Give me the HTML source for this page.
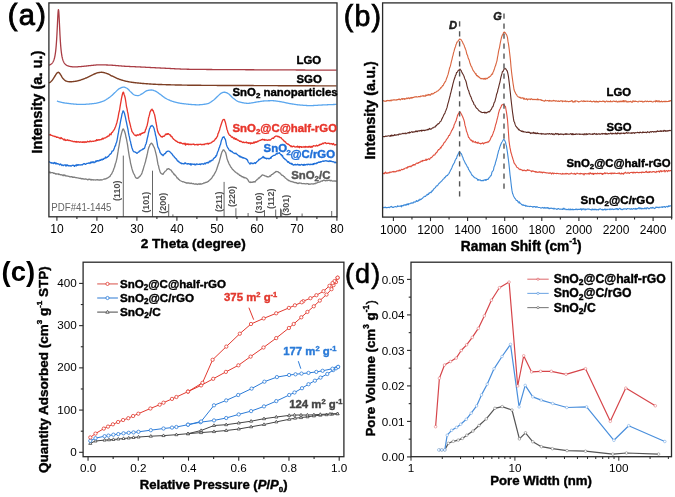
<!DOCTYPE html>
<html><head><meta charset="utf-8"><style>
html,body{margin:0;padding:0;background:#fff;}
svg{display:block;font-family:"Liberation Sans", sans-serif;will-change:transform;filter:blur(0.3px);}
</style></head><body>
<svg width="675" height="497" viewBox="0 0 675 497">
<rect width="675" height="497" fill="#fff"/>
<path d="M49.00,65.18 49.20,65.11 49.40,65.04 49.60,64.96 49.80,64.87 50.00,64.78 50.20,64.68 50.40,64.58 50.60,64.46 50.80,64.33 51.00,64.20 51.20,64.05 51.40,63.89 51.60,63.71 51.80,63.52 52.00,63.32 52.20,63.09 52.40,62.84 52.60,62.56 52.80,62.26 53.00,61.93 53.20,61.56 53.40,61.15 53.60,60.70 53.80,60.20 54.00,59.64 54.20,59.01 54.40,58.30 54.60,57.50 54.80,56.61 55.00,55.59 55.20,54.43 55.40,53.11 55.60,51.60 55.80,49.88 56.00,47.91 56.20,45.65 56.40,43.07 56.60,40.14 56.80,36.83 57.00,33.16 57.20,29.15 57.40,24.92 57.60,20.64 57.80,16.61 58.00,13.18 58.20,10.75 58.40,9.65 58.60,10.03 58.80,11.84 59.00,14.84 59.20,18.63 59.40,22.84 59.60,27.14 59.80,31.29 60.00,35.16 60.20,38.66 60.40,41.80 60.60,44.57 60.80,47.00 61.00,49.12 61.20,50.98 61.40,52.61 61.60,54.03 61.80,55.29 62.00,56.39 62.20,57.36 62.40,58.22 62.60,58.99 62.80,59.67 63.00,60.28 63.20,60.83 63.40,61.32 63.60,61.77 63.80,62.17 64.00,62.53 64.20,62.87 64.40,63.17 64.60,63.44 64.80,63.70 65.00,63.93 65.20,64.14 65.40,64.34 65.60,64.52 65.80,64.69 66.00,64.84 66.20,64.99 66.40,65.12 66.60,65.24 66.80,65.36 67.00,65.46 67.20,65.56 67.40,65.66 67.60,65.74 67.80,65.83 68.00,65.90 68.20,65.97 68.40,66.04 68.60,66.10 68.80,66.16 69.00,66.22 69.20,66.27 69.40,66.32 69.60,66.36 69.80,66.41 70.00,66.45 70.50,66.54 71.00,66.62 71.50,66.69 72.00,66.75 72.50,66.80 73.00,66.83 73.50,66.86 74.00,66.87 74.50,66.88 75.00,66.88 75.50,66.87 76.00,66.85 76.50,66.83 77.00,66.81 77.50,66.78 78.00,66.75 78.50,66.72 79.00,66.69 79.50,66.65 80.00,66.62 80.50,66.59 81.00,66.55 81.50,66.51 82.00,66.46 82.50,66.41 83.00,66.36 83.50,66.31 84.00,66.26 84.50,66.21 85.00,66.15 85.50,66.10 86.00,66.04 86.50,65.99 87.00,65.93 87.50,65.88 88.00,65.82 88.50,65.77 89.00,65.72 89.50,65.67 90.00,65.62 90.50,65.57 91.00,65.52 91.50,65.47 92.00,65.42 92.50,65.36 93.00,65.31 93.50,65.25 94.00,65.19 94.50,65.14 95.00,65.09 95.50,65.04 96.00,64.99 96.50,64.95 97.00,64.91 97.50,64.88 98.00,64.85 98.50,64.82 99.00,64.81 99.50,64.80 100.00,64.80 100.50,64.80 101.00,64.81 101.50,64.81 102.00,64.82 102.50,64.84 103.00,64.85 103.50,64.86 104.00,64.88 104.50,64.90 105.00,64.92 105.50,64.94 106.00,64.96 106.50,64.98 107.00,65.00 107.50,65.02 108.00,65.04 108.50,65.07 109.00,65.09 109.50,65.11 110.00,65.13 110.50,65.16 111.00,65.18 111.50,65.21 112.00,65.24 112.50,65.27 113.00,65.31 113.50,65.34 114.00,65.38 114.50,65.42 115.00,65.46 115.50,65.50 116.00,65.54 116.50,65.58 117.00,65.63 117.50,65.67 118.00,65.71 118.50,65.76 119.00,65.80 119.50,65.84 120.00,65.89 120.50,65.93 121.00,65.97 121.50,66.01 122.00,66.05 122.50,66.09 123.00,66.13 123.50,66.16 124.00,66.20 124.50,66.23 125.00,66.26 125.50,66.29 126.00,66.32 126.50,66.34 127.00,66.37 127.50,66.40 128.00,66.42 128.50,66.45 129.00,66.47 129.50,66.50 130.00,66.52 130.50,66.54 131.00,66.57 131.50,66.59 132.00,66.61 132.50,66.63 133.00,66.66 133.50,66.68 134.00,66.70 134.50,66.72 135.00,66.74 135.50,66.77 136.00,66.79 136.50,66.81 137.00,66.83 137.50,66.86 138.00,66.88 138.50,66.90 139.00,66.93 139.50,66.95 140.00,66.97 140.50,67.00 141.00,67.02 141.50,67.05 142.00,67.07 142.50,67.10 143.00,67.12 143.50,67.15 144.00,67.17 144.50,67.20 145.00,67.22 145.50,67.25 146.00,67.28 146.50,67.30 147.00,67.33 147.50,67.35 148.00,67.38 148.50,67.40 149.00,67.43 149.50,67.46 150.00,67.48 150.50,67.51 151.00,67.53 151.50,67.56 152.00,67.59 152.50,67.61 153.00,67.64 153.50,67.66 154.00,67.69 154.50,67.71 155.00,67.74 155.50,67.76 156.00,67.79 156.50,67.81 157.00,67.84 157.50,67.86 158.00,67.89 158.50,67.91 159.00,67.94 159.50,67.96 160.00,67.98 160.50,68.01 161.00,68.03 161.50,68.05 162.00,68.08 162.50,68.10 163.00,68.13 163.50,68.16 164.00,68.18 164.50,68.21 165.00,68.23 165.50,68.26 166.00,68.29 166.50,68.31 167.00,68.34 167.50,68.36 168.00,68.39 168.50,68.42 169.00,68.44 169.50,68.47 170.00,68.50 170.50,68.52 171.00,68.55 171.50,68.58 172.00,68.60 172.50,68.63 173.00,68.66 173.50,68.68 174.00,68.71 174.50,68.73 175.00,68.76 175.50,68.78 176.00,68.81 176.50,68.83 177.00,68.86 177.50,68.88 178.00,68.90 178.50,68.93 179.00,68.95 179.50,68.97 180.00,68.99 180.50,69.01 181.00,69.03 181.50,69.05 182.00,69.07 182.50,69.09 183.00,69.11 183.50,69.13 184.00,69.14 184.50,69.16 185.00,69.18 185.50,69.19 186.00,69.20 186.50,69.22 187.00,69.23 187.50,69.24 188.00,69.25 188.50,69.26 189.00,69.27 189.50,69.28 190.00,69.29 190.50,69.30 191.00,69.30 191.50,69.31 192.00,69.32 192.50,69.32 193.00,69.33 193.50,69.34 194.00,69.34 194.50,69.35 195.00,69.36 195.50,69.36 196.00,69.37 196.50,69.38 197.00,69.38 197.50,69.39 198.00,69.39 198.50,69.40 199.00,69.40 199.50,69.41 200.00,69.41 200.50,69.42 201.00,69.43 201.50,69.43 202.00,69.44 202.50,69.44 203.00,69.45 203.50,69.45 204.00,69.45 204.50,69.46 205.00,69.46 205.50,69.47 206.00,69.47 206.50,69.48 207.00,69.48 207.50,69.49 208.00,69.49 208.50,69.49 209.00,69.50 209.50,69.50 210.00,69.51 210.50,69.51 211.00,69.51 211.50,69.52 212.00,69.52 212.50,69.53 213.00,69.53 213.50,69.53 214.00,69.54 214.50,69.54 215.00,69.54 215.50,69.55 216.00,69.55 216.50,69.55 217.00,69.56 217.50,69.56 218.00,69.56 218.50,69.57 219.00,69.57 219.50,69.57 220.00,69.58 220.50,69.58 221.00,69.58 221.50,69.59 222.00,69.59 222.50,69.59 223.00,69.59 223.50,69.60 224.00,69.60 224.50,69.60 225.00,69.61 225.50,69.61 226.00,69.61 226.50,69.62 227.00,69.62 227.50,69.62 228.00,69.62 228.50,69.63 229.00,69.63 229.50,69.63 230.00,69.64 230.50,69.64 231.00,69.64 231.50,69.64 232.00,69.65 232.50,69.65 233.00,69.65 233.50,69.66 234.00,69.66 234.50,69.66 235.00,69.66 235.50,69.67 236.00,69.67 236.50,69.67 237.00,69.68 237.50,69.68 238.00,69.68 238.50,69.69 239.00,69.69 239.50,69.69 240.00,69.69 240.50,69.70 241.00,69.70 241.50,69.70 242.00,69.71 242.50,69.71 243.00,69.71 243.50,69.72 244.00,69.72 244.50,69.72 245.00,69.72 245.50,69.73 246.00,69.73 246.50,69.73 247.00,69.74 247.50,69.74 248.00,69.74 248.50,69.74 249.00,69.75 249.50,69.75 250.00,69.75 250.50,69.76 251.00,69.76 251.50,69.76 252.00,69.76 252.50,69.77 253.00,69.77 253.50,69.77 254.00,69.77 254.50,69.78 255.00,69.78 255.50,69.78 256.00,69.78 256.50,69.79 257.00,69.79 257.50,69.79 258.00,69.80 258.50,69.80 259.00,69.80 259.50,69.80 260.00,69.81 260.50,69.81 261.00,69.81 261.50,69.81 262.00,69.82 262.50,69.82 263.00,69.82 263.50,69.82 264.00,69.82 264.50,69.83 265.00,69.83 265.50,69.83 266.00,69.83 266.50,69.84 267.00,69.84 267.50,69.84 268.00,69.84 268.50,69.85 269.00,69.85 269.50,69.85 270.00,69.85 270.50,69.86 271.00,69.86 271.50,69.86 272.00,69.86 272.50,69.86 273.00,69.87 273.50,69.87 274.00,69.87 274.50,69.87 275.00,69.88 275.50,69.88 276.00,69.88 276.50,69.88 277.00,69.89 277.50,69.89 278.00,69.89 278.50,69.89 279.00,69.89 279.50,69.90 280.00,69.90 280.50,69.90 281.00,69.90 281.50,69.91 282.00,69.91 282.50,69.91 283.00,69.91 283.50,69.92 284.00,69.92 284.50,69.92 285.00,69.92 285.50,69.93 286.00,69.93 286.50,69.93 287.00,69.93 287.50,69.93 288.00,69.94 288.50,69.94 289.00,69.94 289.50,69.94 290.00,69.95 290.50,69.95 291.00,69.95 291.50,69.95 292.00,69.96 292.50,69.96 293.00,69.96 293.50,69.96 294.00,69.97 294.50,69.97 295.00,69.97 295.50,69.97 296.00,69.98 296.50,69.98 297.00,69.98 297.50,69.98 298.00,69.99 298.50,69.99 299.00,69.99 299.50,69.99 300.00,70.00 300.50,70.00 301.00,70.00 301.50,70.00 302.00,70.01 302.50,70.01 303.00,70.01 303.50,70.02 304.00,70.02 304.50,70.02 305.00,70.02 305.50,70.03 306.00,70.03 306.50,70.03 307.00,70.03 307.50,70.04 308.00,70.04 308.50,70.04 309.00,70.05 309.50,70.05 310.00,70.05 310.50,70.05 311.00,70.06 311.50,70.06 312.00,70.06 312.50,70.06 313.00,70.07 313.50,70.07 314.00,70.07 314.50,70.07 315.00,70.08 315.50,70.08 316.00,70.08 316.50,70.09 317.00,70.09 317.50,70.09 318.00,70.09 318.50,70.10 319.00,70.10 319.50,70.10 320.00,70.11 320.50,70.11 321.00,70.11 321.50,70.11 322.00,70.12 322.50,70.12 323.00,70.12 323.50,70.12 324.00,70.13 324.50,70.13 325.00,70.13 325.50,70.14 326.00,70.14 326.50,70.14 327.00,70.14 327.50,70.15 328.00,70.15 328.50,70.15 329.00,70.16 329.50,70.16 330.00,70.16 330.50,70.16 331.00,70.17 331.50,70.17 332.00,70.17 332.50,70.18 333.00,70.18 333.50,70.18 334.00,70.18 334.50,70.19 335.00,70.19 335.50,70.19 336.00,70.19 336.50,70.20" fill="none" stroke="#a93c44" stroke-width="1.3" stroke-linejoin="round" />
<path d="M49.00,83.00 49.50,82.72 50.00,82.37 50.50,81.96 51.00,81.51 51.50,81.02 52.00,80.50 52.50,79.89 53.00,79.17 53.50,78.38 54.00,77.56 54.50,76.75 55.00,76.00 55.50,75.23 56.00,74.40 56.50,73.62 57.00,72.98 57.50,72.60 58.00,72.39 58.50,72.30 59.00,72.56 59.50,73.15 60.00,73.80 60.50,74.49 61.00,75.31 61.50,76.19 62.00,77.06 62.50,77.86 63.00,78.50 63.50,79.04 64.00,79.56 64.50,80.03 65.00,80.45 65.50,80.77 66.00,81.00 66.50,81.16 67.00,81.31 67.50,81.45 68.00,81.57 68.50,81.66 69.00,81.74 69.50,81.78 70.00,81.80 70.50,81.79 71.00,81.78 71.50,81.75 72.00,81.71 72.50,81.66 73.00,81.61 73.50,81.55 74.00,81.49 74.50,81.42 75.00,81.35 75.50,81.27 76.00,81.20 76.50,81.12 77.00,81.02 77.50,80.92 78.00,80.80 78.50,80.66 79.00,80.52 79.50,80.37 80.00,80.21 80.50,80.05 81.00,79.88 81.50,79.70 82.00,79.53 82.50,79.34 83.00,79.16 83.50,78.98 84.00,78.80 84.50,78.61 85.00,78.42 85.50,78.21 86.00,77.99 86.50,77.77 87.00,77.54 87.50,77.31 88.00,77.07 88.50,76.83 89.00,76.59 89.50,76.35 90.00,76.11 90.50,75.88 91.00,75.65 91.50,75.42 92.00,75.20 92.50,74.98 93.00,74.74 93.50,74.49 94.00,74.24 94.50,74.00 95.00,73.75 95.50,73.52 96.00,73.31 96.50,73.11 97.00,72.94 97.50,72.80 98.00,72.70 98.50,72.62 99.00,72.53 99.50,72.46 100.00,72.39 100.50,72.34 101.00,72.31 101.50,72.30 102.00,72.32 102.50,72.37 103.00,72.44 103.50,72.54 104.00,72.66 104.50,72.78 105.00,72.92 105.50,73.06 106.00,73.20 106.50,73.35 107.00,73.54 107.50,73.74 108.00,73.97 108.50,74.21 109.00,74.47 109.50,74.73 110.00,74.99 110.50,75.26 111.00,75.52 111.50,75.77 112.00,76.00 112.50,76.23 113.00,76.46 113.50,76.70 114.00,76.94 114.50,77.17 115.00,77.41 115.50,77.65 116.00,77.88 116.50,78.11 117.00,78.33 117.50,78.55 118.00,78.76 118.50,78.96 119.00,79.15 119.50,79.33 120.00,79.50 120.50,79.66 121.00,79.82 121.50,79.97 122.00,80.12 122.50,80.27 123.00,80.41 123.50,80.55 124.00,80.69 124.50,80.82 125.00,80.95 125.50,81.08 126.00,81.20 126.50,81.31 127.00,81.43 127.50,81.53 128.00,81.64 128.50,81.73 129.00,81.83 129.50,81.92 130.00,82.00 130.50,82.08 131.00,82.16 131.50,82.23 132.00,82.30 132.50,82.37 133.00,82.44 133.50,82.51 134.00,82.57 134.50,82.64 135.00,82.70 135.50,82.76 136.00,82.81 136.50,82.87 137.00,82.92 137.50,82.97 138.00,83.02 138.50,83.07 139.00,83.12 139.50,83.17 140.00,83.21 140.50,83.26 141.00,83.30 141.50,83.34 142.00,83.38 142.50,83.43 143.00,83.47 143.50,83.51 144.00,83.55 144.50,83.59 145.00,83.63 145.50,83.66 146.00,83.70 146.50,83.74 147.00,83.78 147.50,83.81 148.00,83.85 148.50,83.89 149.00,83.92 149.50,83.95 150.00,83.99 150.50,84.02 151.00,84.05 151.50,84.09 152.00,84.12 152.50,84.15 153.00,84.18 153.50,84.20 154.00,84.23 154.50,84.26 155.00,84.29 155.50,84.31 156.00,84.34 156.50,84.36 157.00,84.38 157.50,84.40 158.00,84.43 158.50,84.45 159.00,84.46 159.50,84.48 160.00,84.50 160.50,84.52 161.00,84.53 161.50,84.55 162.00,84.57 162.50,84.58 163.00,84.60 163.50,84.61 164.00,84.63 164.50,84.64 165.00,84.66 165.50,84.67 166.00,84.69 166.50,84.70 167.00,84.72 167.50,84.73 168.00,84.75 168.50,84.76 169.00,84.78 169.50,84.79 170.00,84.80 170.50,84.82 171.00,84.83 171.50,84.84 172.00,84.86 172.50,84.87 173.00,84.88 173.50,84.89 174.00,84.91 174.50,84.92 175.00,84.93 175.50,84.94 176.00,84.95 176.50,84.96 177.00,84.98 177.50,84.99 178.00,85.00 178.50,85.01 179.00,85.02 179.50,85.03 180.00,85.04 180.50,85.05 181.00,85.06 181.50,85.07 182.00,85.08 182.50,85.09 183.00,85.10 183.50,85.11 184.00,85.12 184.50,85.13 185.00,85.13 185.50,85.14 186.00,85.15 186.50,85.16 187.00,85.17 187.50,85.18 188.00,85.18 188.50,85.19 189.00,85.20 189.50,85.20 190.00,85.21 190.50,85.22 191.00,85.23 191.50,85.23 192.00,85.24 192.50,85.24 193.00,85.25 193.50,85.26 194.00,85.26 194.50,85.27 195.00,85.27 195.50,85.28 196.00,85.28 196.50,85.29 197.00,85.29 197.50,85.30 198.00,85.30 198.50,85.30 199.00,85.31 199.50,85.31 200.00,85.32 200.50,85.32 201.00,85.32 201.50,85.33 202.00,85.33 202.50,85.34 203.00,85.34 203.50,85.34 204.00,85.35 204.50,85.35 205.00,85.35 205.50,85.36 206.00,85.36 206.50,85.36 207.00,85.37 207.50,85.37 208.00,85.37 208.50,85.38 209.00,85.38 209.50,85.38 210.00,85.39 210.50,85.39 211.00,85.39 211.50,85.39 212.00,85.40 212.50,85.40 213.00,85.40 213.50,85.41 214.00,85.41 214.50,85.41 215.00,85.41 215.50,85.42 216.00,85.42 216.50,85.42 217.00,85.43 217.50,85.43 218.00,85.43 218.50,85.43 219.00,85.44 219.50,85.44 220.00,85.44 220.50,85.44 221.00,85.45 221.50,85.45 222.00,85.45 222.50,85.45 223.00,85.45 223.50,85.46 224.00,85.46 224.50,85.46 225.00,85.46 225.50,85.47 226.00,85.47 226.50,85.47 227.00,85.47 227.50,85.47 228.00,85.48 228.50,85.48 229.00,85.48 229.50,85.48 230.00,85.48 230.50,85.49 231.00,85.49 231.50,85.49 232.00,85.49 232.50,85.49 233.00,85.50 233.50,85.50 234.00,85.50 234.50,85.50 235.00,85.50 235.50,85.51 236.00,85.51 236.50,85.51 237.00,85.51 237.50,85.51 238.00,85.52 238.50,85.52 239.00,85.52 239.50,85.52 240.00,85.52 240.50,85.52 241.00,85.53 241.50,85.53 242.00,85.53 242.50,85.53 243.00,85.53 243.50,85.54 244.00,85.54 244.50,85.54 245.00,85.54 245.50,85.54 246.00,85.54 246.50,85.55 247.00,85.55 247.50,85.55 248.00,85.55 248.50,85.55 249.00,85.56 249.50,85.56 250.00,85.56 250.50,85.56 251.00,85.56 251.50,85.57 252.00,85.57 252.50,85.57 253.00,85.57 253.50,85.57 254.00,85.58 254.50,85.58 255.00,85.58 255.50,85.58 256.00,85.58 256.50,85.59 257.00,85.59 257.50,85.59 258.00,85.59 258.50,85.59 259.00,85.60 259.50,85.60 260.00,85.60 260.50,85.60 261.00,85.60 261.50,85.61 262.00,85.61 262.50,85.61 263.00,85.61 263.50,85.62 264.00,85.62 264.50,85.62 265.00,85.62 265.50,85.62 266.00,85.63 266.50,85.63 267.00,85.63 267.50,85.63 268.00,85.63 268.50,85.64 269.00,85.64 269.50,85.64 270.00,85.64 270.50,85.65 271.00,85.65 271.50,85.65 272.00,85.65 272.50,85.65 273.00,85.66 273.50,85.66 274.00,85.66 274.50,85.66 275.00,85.66 275.50,85.67 276.00,85.67 276.50,85.67 277.00,85.67 277.50,85.67 278.00,85.68 278.50,85.68 279.00,85.68 279.50,85.68 280.00,85.69 280.50,85.69 281.00,85.69 281.50,85.69 282.00,85.69 282.50,85.70 283.00,85.70 283.50,85.70 284.00,85.70 284.50,85.70 285.00,85.71 285.50,85.71 286.00,85.71 286.50,85.71 287.00,85.71 287.50,85.72 288.00,85.72 288.50,85.72 289.00,85.72 289.50,85.72 290.00,85.73 290.50,85.73 291.00,85.73 291.50,85.73 292.00,85.73 292.50,85.74 293.00,85.74 293.50,85.74 294.00,85.74 294.50,85.74 295.00,85.75 295.50,85.75 296.00,85.75 296.50,85.75 297.00,85.75 297.50,85.76 298.00,85.76 298.50,85.76 299.00,85.76 299.50,85.76 300.00,85.77 300.50,85.77 301.00,85.77 301.50,85.77 302.00,85.77 302.50,85.78 303.00,85.78 303.50,85.78 304.00,85.78 304.50,85.78 305.00,85.79 305.50,85.79 306.00,85.79 306.50,85.79 307.00,85.79 307.50,85.79 308.00,85.80 308.50,85.80 309.00,85.80 309.50,85.80 310.00,85.80 310.50,85.81 311.00,85.81 311.50,85.81 312.00,85.81 312.50,85.81 313.00,85.82 313.50,85.82 314.00,85.82 314.50,85.82 315.00,85.82 315.50,85.83 316.00,85.83 316.50,85.83 317.00,85.83 317.50,85.83 318.00,85.83 318.50,85.84 319.00,85.84 319.50,85.84 320.00,85.84 320.50,85.84 321.00,85.85 321.50,85.85 322.00,85.85 322.50,85.85 323.00,85.85 323.50,85.85 324.00,85.86 324.50,85.86 325.00,85.86 325.50,85.86 326.00,85.86 326.50,85.87 327.00,85.87 327.50,85.87 328.00,85.87 328.50,85.87 329.00,85.87 329.50,85.88 330.00,85.88 330.50,85.88 331.00,85.88 331.50,85.88 332.00,85.88 332.50,85.89 333.00,85.89 333.50,85.89 334.00,85.89 334.50,85.89 335.00,85.89 335.50,85.90 336.00,85.90 336.50,85.90" fill="none" stroke="#7d3f24" stroke-width="1.4" stroke-linejoin="round" />
<path d="M56.90,101.10 57.40,101.24 57.90,101.38 58.40,101.52 58.90,101.66 59.40,101.80 59.90,101.93 60.40,102.06 60.90,102.19 61.40,102.31 61.90,102.43 62.40,102.54 62.90,102.64 63.40,102.74 63.90,102.83 64.40,102.91 64.90,102.99 65.40,103.05 65.90,103.12 66.40,103.19 66.90,103.25 67.40,103.32 67.90,103.38 68.40,103.45 68.90,103.51 69.40,103.57 69.90,103.63 70.40,103.69 70.90,103.75 71.40,103.80 71.90,103.86 72.40,103.91 72.90,103.96 73.40,104.01 73.90,104.05 74.40,104.10 74.90,104.14 75.40,104.18 75.90,104.21 76.40,104.25 76.90,104.28 77.40,104.30 77.90,104.33 78.40,104.35 78.90,104.37 79.40,104.38 79.90,104.39 80.40,104.40 80.90,104.40 81.40,104.40 81.90,104.39 82.40,104.39 82.90,104.38 83.40,104.36 83.90,104.35 84.40,104.33 84.90,104.30 85.40,104.28 85.90,104.25 86.40,104.22 86.90,104.19 87.40,104.15 87.90,104.12 88.40,104.08 88.90,104.04 89.40,103.99 89.90,103.95 90.40,103.90 90.90,103.85 91.40,103.80 91.90,103.75 92.40,103.70 92.90,103.64 93.40,103.59 93.90,103.53 94.40,103.47 94.90,103.41 95.40,103.35 95.90,103.27 96.40,103.18 96.90,103.09 97.40,102.98 97.90,102.86 98.40,102.73 98.90,102.59 99.40,102.44 99.90,102.29 100.40,102.13 100.90,101.96 101.40,101.79 101.90,101.61 102.40,101.43 102.90,101.24 103.40,101.04 103.90,100.82 104.40,100.59 104.90,100.33 105.40,100.06 105.90,99.77 106.40,99.47 106.90,99.15 107.40,98.82 107.90,98.49 108.40,98.14 108.90,97.79 109.40,97.43 109.90,97.07 110.40,96.70 110.90,96.29 111.40,95.86 111.90,95.41 112.40,94.95 112.90,94.47 113.40,94.00 113.90,93.52 114.40,93.05 114.90,92.59 115.40,92.13 115.90,91.64 116.40,91.13 116.90,90.62 117.40,90.13 117.90,89.66 118.40,89.23 118.90,88.85 119.40,88.55 119.90,88.30 120.40,88.06 120.90,87.82 121.40,87.61 121.90,87.42 122.40,87.27 122.90,87.16 123.40,87.11 123.90,87.11 124.40,87.19 124.90,87.34 125.40,87.52 125.90,87.75 126.40,87.99 126.90,88.25 127.40,88.54 127.90,88.95 128.40,89.43 128.90,89.97 129.40,90.54 129.90,91.10 130.40,91.63 130.90,92.11 131.40,92.55 131.90,93.01 132.40,93.48 132.90,93.93 133.40,94.34 133.90,94.70 134.40,94.99 134.90,95.18 135.40,95.29 135.90,95.38 136.40,95.47 136.90,95.53 137.40,95.58 137.90,95.60 138.40,95.57 138.90,95.45 139.40,95.26 139.90,95.01 140.40,94.73 140.90,94.43 141.40,94.13 141.90,93.85 142.40,93.58 142.90,93.25 143.40,92.90 143.90,92.53 144.40,92.16 144.90,91.80 145.40,91.46 145.90,91.16 146.40,90.91 146.90,90.73 147.40,90.60 147.90,90.48 148.40,90.36 148.90,90.26 149.40,90.17 149.90,90.10 150.40,90.04 150.90,90.01 151.40,90.00 151.90,90.04 152.40,90.12 152.90,90.24 153.40,90.39 153.90,90.57 154.40,90.76 154.90,90.96 155.40,91.16 155.90,91.38 156.40,91.64 156.90,91.95 157.40,92.29 157.90,92.65 158.40,93.02 158.90,93.40 159.40,93.77 159.90,94.13 160.40,94.48 160.90,94.85 161.40,95.23 161.90,95.61 162.40,96.00 162.90,96.39 163.40,96.77 163.90,97.14 164.40,97.50 164.90,97.84 165.40,98.15 165.90,98.45 166.40,98.71 166.90,98.98 167.40,99.23 167.90,99.48 168.40,99.72 168.90,99.95 169.40,100.17 169.90,100.38 170.40,100.59 170.90,100.78 171.40,100.97 171.90,101.15 172.40,101.31 172.90,101.47 173.40,101.62 173.90,101.76 174.40,101.90 174.90,102.04 175.40,102.18 175.90,102.31 176.40,102.43 176.90,102.55 177.40,102.67 177.90,102.78 178.40,102.89 178.90,102.99 179.40,103.09 179.90,103.18 180.40,103.27 180.90,103.35 181.40,103.42 181.90,103.49 182.40,103.55 182.90,103.61 183.40,103.67 183.90,103.73 184.40,103.79 184.90,103.85 185.40,103.91 185.90,103.97 186.40,104.03 186.90,104.08 187.40,104.14 187.90,104.19 188.40,104.24 188.90,104.29 189.40,104.34 189.90,104.39 190.40,104.43 190.90,104.48 191.40,104.52 191.90,104.56 192.40,104.59 192.90,104.63 193.40,104.66 193.90,104.68 194.40,104.71 194.90,104.73 195.40,104.75 195.90,104.77 196.40,104.78 196.90,104.79 197.40,104.80 197.90,104.80 198.40,104.80 198.90,104.79 199.40,104.77 199.90,104.75 200.40,104.72 200.90,104.68 201.40,104.63 201.90,104.58 202.40,104.53 202.90,104.47 203.40,104.40 203.90,104.33 204.40,104.26 204.90,104.18 205.40,104.09 205.90,104.01 206.40,103.91 206.90,103.82 207.40,103.71 207.90,103.55 208.40,103.36 208.90,103.13 209.40,102.87 209.90,102.58 210.40,102.27 210.90,101.95 211.40,101.61 211.90,101.26 212.40,100.92 212.90,100.57 213.40,100.21 213.90,99.82 214.40,99.39 214.90,98.93 215.40,98.46 215.90,97.98 216.40,97.50 216.90,97.01 217.40,96.54 217.90,96.09 218.40,95.63 218.90,95.14 219.40,94.64 219.90,94.15 220.40,93.71 220.90,93.33 221.40,93.04 221.90,92.84 222.40,92.64 222.90,92.47 223.40,92.33 223.90,92.23 224.40,92.20 224.90,92.24 225.40,92.34 225.90,92.51 226.40,92.71 226.90,92.94 227.40,93.19 227.90,93.45 228.40,93.73 228.90,94.09 229.40,94.52 229.90,94.99 230.40,95.49 230.90,96.02 231.40,96.53 231.90,97.04 232.40,97.51 232.90,97.92 233.40,98.30 233.90,98.68 234.40,99.07 234.90,99.45 235.40,99.82 235.90,100.18 236.40,100.52 236.90,100.84 237.40,101.13 237.90,101.38 238.40,101.60 238.90,101.77 239.40,101.91 239.90,102.05 240.40,102.18 240.90,102.31 241.40,102.43 241.90,102.54 242.40,102.66 242.90,102.76 243.40,102.86 243.90,102.95 244.40,103.03 244.90,103.10 245.40,103.16 245.90,103.21 246.40,103.25 246.90,103.28 247.40,103.30 247.90,103.30 248.40,103.29 248.90,103.27 249.40,103.23 249.90,103.18 250.40,103.12 250.90,103.06 251.40,102.98 251.90,102.90 252.40,102.82 252.90,102.72 253.40,102.63 253.90,102.53 254.40,102.43 254.90,102.34 255.40,102.24 255.90,102.15 256.40,102.05 256.90,101.97 257.40,101.89 257.90,101.81 258.40,101.74 258.90,101.67 259.40,101.59 259.90,101.52 260.40,101.44 260.90,101.36 261.40,101.29 261.90,101.21 262.40,101.14 262.90,101.08 263.40,101.02 263.90,100.98 264.40,100.94 264.90,100.90 265.40,100.88 265.90,100.86 266.40,100.84 266.90,100.82 267.40,100.80 267.90,100.78 268.40,100.76 268.90,100.75 269.40,100.74 269.90,100.73 270.40,100.72 270.90,100.71 271.40,100.70 271.90,100.70 272.40,100.70 272.90,100.71 273.40,100.73 273.90,100.77 274.40,100.81 274.90,100.86 275.40,100.92 275.90,100.98 276.40,101.05 276.90,101.12 277.40,101.20 277.90,101.28 278.40,101.36 278.90,101.43 279.40,101.51 279.90,101.59 280.40,101.66 280.90,101.74 281.40,101.83 281.90,101.92 282.40,102.02 282.90,102.12 283.40,102.23 283.90,102.33 284.40,102.44 284.90,102.55 285.40,102.66 285.90,102.78 286.40,102.89 286.90,103.00 287.40,103.10 287.90,103.21 288.40,103.31 288.90,103.40 289.40,103.50 289.90,103.58 290.40,103.67 290.90,103.75 291.40,103.83 291.90,103.91 292.40,103.99 292.90,104.08 293.40,104.16 293.90,104.23 294.40,104.31 294.90,104.39 295.40,104.46 295.90,104.53 296.40,104.60 296.90,104.67 297.40,104.73 297.90,104.79 298.40,104.84 298.90,104.90 299.40,104.95 299.90,104.99 300.40,105.03 300.90,105.08 301.40,105.12 301.90,105.16 302.40,105.20 302.90,105.24 303.40,105.29 303.90,105.32 304.40,105.36 304.90,105.40 305.40,105.43 305.90,105.46 306.40,105.49 306.90,105.52 307.40,105.54 307.90,105.56 308.40,105.58 308.90,105.59 309.40,105.60 309.90,105.60 310.40,105.60 310.90,105.59 311.40,105.58 311.90,105.57 312.40,105.56 312.90,105.54 313.40,105.51 313.90,105.49 314.40,105.46 314.90,105.44 315.40,105.41 315.90,105.37 316.40,105.34 316.90,105.31 317.40,105.28 317.90,105.24 318.40,105.21 318.90,105.18 319.40,105.14 319.90,105.11 320.40,105.08 320.90,105.06 321.40,105.03 321.90,105.00 322.40,104.98 322.90,104.96 323.40,104.94 323.90,104.91 324.40,104.89 324.90,104.87 325.40,104.85 325.90,104.83 326.40,104.80 326.90,104.78 327.40,104.76 327.90,104.74 328.40,104.72 328.90,104.70 329.40,104.68 329.90,104.66 330.40,104.64 330.90,104.62 331.40,104.60 331.90,104.58 332.40,104.56 332.90,104.54 333.40,104.52 333.90,104.50 334.40,104.48 334.90,104.46 335.40,104.44 335.90,104.42 336.40,104.40 336.50,104.40" fill="none" stroke="#5aa6ee" stroke-width="1.3" stroke-linejoin="round" />
<path d="M49.00,134.52 49.50,134.87 50.00,134.89 50.50,134.50 51.00,135.45 51.50,135.47 52.00,135.31 52.50,135.88 53.00,135.98 53.50,136.13 54.00,136.21 54.50,136.56 55.00,136.28 55.50,136.65 56.00,136.70 56.50,137.24 57.00,137.20 57.50,137.24 58.00,137.23 58.50,137.56 59.00,137.81 59.50,137.87 60.00,138.58 60.50,138.63 61.00,137.49 61.50,137.93 62.00,138.69 62.50,138.75 63.00,139.13 63.50,139.28 64.00,140.09 64.50,139.11 65.00,139.51 65.50,140.49 66.00,140.14 66.50,140.27 67.00,139.99 67.50,139.71 68.00,140.46 68.50,140.55 69.00,140.18 69.50,140.47 70.00,140.77 70.50,140.56 71.00,140.94 71.50,141.10 72.00,141.17 72.50,141.07 73.00,141.54 73.50,141.73 74.00,141.61 74.50,141.30 75.00,141.92 75.50,141.56 76.00,142.12 76.50,141.50 77.00,142.26 77.50,141.99 78.00,141.61 78.50,141.98 79.00,142.15 79.50,142.26 80.00,141.84 80.50,141.81 81.00,142.27 81.50,142.03 82.00,142.27 82.50,142.44 83.00,141.58 83.50,142.22 84.00,142.54 84.50,141.97 85.00,141.76 85.50,142.27 86.00,142.05 86.50,142.23 87.00,141.75 87.50,141.30 88.00,141.73 88.50,141.56 89.00,141.93 89.50,141.67 90.00,140.97 90.50,141.06 91.00,141.73 91.50,141.60 92.00,141.08 92.50,141.24 93.00,141.32 93.50,141.25 94.00,141.31 94.50,141.01 95.00,140.79 95.50,140.63 96.00,140.99 96.50,139.72 97.00,140.34 97.50,140.28 98.00,139.64 98.50,140.13 99.00,139.65 99.50,140.04 100.00,139.56 100.50,139.69 101.00,139.73 101.50,139.29 102.00,138.69 102.50,138.31 103.00,139.28 103.50,138.45 104.00,138.06 104.50,138.15 105.00,137.81 105.50,137.95 106.00,137.42 106.50,137.16 107.00,136.64 107.50,136.77 108.00,135.94 108.50,136.21 109.00,136.15 109.50,134.70 110.00,133.95 110.50,134.58 111.00,134.76 111.50,132.99 112.00,132.33 112.50,132.36 113.00,131.21 113.50,130.59 114.00,129.80 114.50,129.16 115.00,127.76 115.50,126.82 116.00,125.36 116.50,123.70 117.00,122.18 117.50,119.86 118.00,117.82 118.50,114.86 119.00,112.23 119.50,110.51 120.00,107.21 120.50,104.18 121.00,101.36 121.50,98.28 122.00,95.99 122.50,93.82 123.00,92.35 123.50,92.20 124.00,94.23 124.50,95.45 125.00,97.24 125.50,99.88 126.00,103.02 126.50,106.76 127.00,108.59 127.50,111.71 128.00,113.62 128.50,117.05 129.00,119.92 129.50,121.87 130.00,123.78 130.50,125.95 131.00,127.93 131.50,129.61 132.00,131.56 132.50,132.18 133.00,132.79 133.50,133.65 134.00,134.32 134.50,134.93 135.00,135.30 135.50,135.62 136.00,135.01 136.50,135.80 137.00,135.16 137.50,134.75 138.00,135.16 138.50,135.17 139.00,134.67 139.50,134.38 140.00,133.83 140.50,135.01 141.00,134.17 141.50,133.30 142.00,133.26 142.50,133.37 143.00,132.57 143.50,132.91 144.00,132.37 144.50,132.59 145.00,131.95 145.50,129.56 146.00,129.10 146.50,126.98 147.00,126.06 147.50,123.66 148.00,121.35 148.50,118.00 149.00,116.42 149.50,114.61 150.00,112.19 150.50,111.46 151.00,110.09 151.50,109.67 152.00,109.07 152.50,110.53 153.00,110.34 153.50,111.68 154.00,113.26 154.50,114.32 155.00,116.75 155.50,119.47 156.00,122.50 156.50,124.80 157.00,127.93 157.50,130.56 158.00,132.11 158.50,133.22 159.00,133.85 159.50,134.84 160.00,135.08 160.50,135.88 161.00,136.56 161.50,136.81 162.00,136.49 162.50,137.00 163.00,136.27 163.50,136.24 164.00,136.34 164.50,135.90 165.00,135.11 165.50,134.09 166.00,134.65 166.50,134.41 167.00,133.66 167.50,134.31 168.00,133.75 168.50,133.70 169.00,134.38 169.50,134.63 170.00,135.17 170.50,134.94 171.00,136.59 171.50,136.31 172.00,136.62 172.50,138.04 173.00,138.34 173.50,139.15 174.00,139.38 174.50,139.87 175.00,140.36 175.50,140.39 176.00,141.25 176.50,141.18 177.00,141.36 177.50,141.99 178.00,142.39 178.50,142.40 179.00,142.38 179.50,143.08 180.00,142.38 180.50,142.76 181.00,143.24 181.50,142.86 182.00,143.45 182.50,143.53 183.00,143.96 183.50,143.41 184.00,143.60 184.50,144.02 185.00,143.11 185.50,145.13 186.00,143.86 186.50,143.91 187.00,144.52 187.50,144.25 188.00,143.68 188.50,144.56 189.00,144.67 189.50,144.23 190.00,144.30 190.50,144.58 191.00,144.10 191.50,144.58 192.00,144.50 192.50,144.21 193.00,143.96 193.50,144.38 194.00,144.16 194.50,144.82 195.00,144.52 195.50,144.75 196.00,144.53 196.50,144.58 197.00,144.22 197.50,144.73 198.00,145.12 198.50,144.39 199.00,144.29 199.50,144.44 200.00,144.33 200.50,144.25 201.00,144.53 201.50,144.35 202.00,144.92 202.50,144.38 203.00,144.45 203.50,144.62 204.00,144.12 204.50,144.67 205.00,143.89 205.50,143.77 206.00,143.87 206.50,143.90 207.00,143.40 207.50,143.82 208.00,143.18 208.50,144.18 209.00,143.58 209.50,143.29 210.00,143.08 210.50,143.14 211.00,142.97 211.50,142.37 212.00,142.03 212.50,141.85 213.00,141.27 213.50,141.33 214.00,140.95 214.50,140.09 215.00,139.74 215.50,138.54 216.00,138.60 216.50,137.63 217.00,136.87 217.50,136.13 218.00,133.51 218.50,133.09 219.00,131.22 219.50,130.28 220.00,128.04 220.50,126.60 221.00,125.00 221.50,123.50 222.00,122.07 222.50,120.61 223.00,119.72 223.50,119.67 224.00,119.44 224.50,119.57 225.00,121.56 225.50,122.75 226.00,125.10 226.50,127.15 227.00,129.49 227.50,130.54 228.00,132.61 228.50,133.33 229.00,134.50 229.50,135.24 230.00,135.16 230.50,135.85 231.00,136.29 231.50,137.07 232.00,137.24 232.50,136.88 233.00,137.76 233.50,138.13 234.00,138.88 234.50,137.81 235.00,138.47 235.50,139.38 236.00,138.68 236.50,138.96 237.00,139.79 237.50,140.19 238.00,139.82 238.50,140.47 239.00,140.54 239.50,141.27 240.00,140.98 240.50,141.58 241.00,141.17 241.50,141.65 242.00,141.89 242.50,142.48 243.00,142.40 243.50,142.01 244.00,142.57 244.50,142.65 245.00,142.39 245.50,142.40 246.00,142.49 246.50,142.06 247.00,142.82 247.50,142.94 248.00,142.66 248.50,143.32 249.00,142.65 249.50,142.99 250.00,143.03 250.50,143.89 251.00,142.61 251.50,143.33 252.00,143.42 252.50,143.17 253.00,143.39 253.50,142.55 254.00,142.03 254.50,143.01 255.00,142.18 255.50,142.30 256.00,141.78 256.50,142.31 257.00,142.00 257.50,141.19 258.00,141.52 258.50,141.04 259.00,140.75 259.50,140.59 260.00,140.27 260.50,140.33 261.00,140.01 261.50,139.59 262.00,139.91 262.50,139.23 263.00,139.50 263.50,139.57 264.00,140.01 264.50,139.41 265.00,140.31 265.50,139.86 266.00,139.84 266.50,139.81 267.00,140.39 267.50,140.32 268.00,139.99 268.50,140.00 269.00,140.11 269.50,139.86 270.00,140.19 270.50,139.95 271.00,139.42 271.50,138.91 272.00,138.35 272.50,138.25 273.00,138.25 273.50,138.37 274.00,137.63 274.50,136.91 275.00,136.73 275.50,136.30 276.00,135.98 276.50,136.04 277.00,136.08 277.50,136.65 278.00,136.11 278.50,136.73 279.00,137.10 279.50,136.76 280.00,137.56 280.50,137.59 281.00,137.65 281.50,138.42 282.00,138.89 282.50,139.32 283.00,139.82 283.50,140.42 284.00,141.02 284.50,141.06 285.00,141.85 285.50,141.79 286.00,142.85 286.50,143.37 287.00,143.56 287.50,143.92 288.00,144.34 288.50,144.22 289.00,144.67 289.50,145.22 290.00,145.67 290.50,145.72 291.00,146.70 291.50,145.99 292.00,146.55 292.50,146.79 293.00,146.41 293.50,146.24 294.00,146.17 294.50,146.70 295.00,147.09 295.50,146.85 296.00,146.86 296.50,146.71 297.00,147.08 297.50,146.17 298.00,147.03 298.50,146.98 299.00,146.51 299.50,147.76 300.00,146.51 300.50,146.62 301.00,146.58 301.50,147.38 302.00,146.68 302.50,147.22 303.00,147.18 303.50,147.06 304.00,146.50 304.50,146.73 305.00,147.52 305.50,146.47 306.00,146.62 306.50,146.84 307.00,147.16 307.50,146.95 308.00,147.10 308.50,146.45 309.00,147.13 309.50,146.98 310.00,146.20 310.50,147.27 311.00,147.51 311.50,146.40 312.00,146.64 312.50,147.04 313.00,145.95 313.50,145.67 314.00,145.80 314.50,145.93 315.00,145.80 315.50,146.08 316.00,145.83 316.50,145.16 317.00,145.66 317.50,145.98 318.00,145.62 318.50,145.41 319.00,144.92 319.50,145.08 320.00,144.21 320.50,144.63 321.00,144.14 321.50,144.38 322.00,143.96 322.50,143.24 323.00,143.52 323.50,143.76 324.00,142.83 324.50,142.96 325.00,142.84 325.50,142.58 326.00,143.45 326.50,143.60 327.00,143.45 327.50,143.30 328.00,143.25 328.50,143.40 329.00,143.12 329.50,143.75 330.00,143.87 330.50,143.89 331.00,143.45 331.50,143.75 332.00,143.75 332.50,144.53 333.00,144.07 333.50,143.46 334.00,144.37 334.50,145.01 335.00,144.72 335.50,144.93 336.00,144.77 336.50,144.21" fill="none" stroke="#e8352b" stroke-width="1.3" stroke-linejoin="round" />
<path d="M49.00,161.57 49.50,161.89 50.00,162.41 50.50,162.69 51.00,162.95 51.50,162.71 52.00,163.28 52.50,162.97 53.00,162.93 53.50,163.59 54.00,163.08 54.50,162.56 55.00,163.25 55.50,163.75 56.00,162.74 56.50,163.79 57.00,163.89 57.50,163.60 58.00,163.67 58.50,164.11 59.00,164.16 59.50,164.87 60.00,164.63 60.50,164.02 61.00,164.35 61.50,164.97 62.00,165.46 62.50,165.01 63.00,165.06 63.50,165.67 64.00,165.09 64.50,165.05 65.00,164.73 65.50,165.11 66.00,166.11 66.50,164.91 67.00,165.46 67.50,165.00 68.00,165.58 68.50,165.87 69.00,165.50 69.50,165.85 70.00,165.85 70.50,165.75 71.00,166.19 71.50,165.85 72.00,165.45 72.50,165.30 73.00,165.21 73.50,165.65 74.00,165.33 74.50,166.36 75.00,166.01 75.50,165.25 76.00,165.16 76.50,165.82 77.00,164.52 77.50,164.97 78.00,165.40 78.50,164.70 79.00,164.79 79.50,164.78 80.00,165.07 80.50,164.83 81.00,164.86 81.50,164.87 82.00,164.61 82.50,164.93 83.00,164.21 83.50,163.89 84.00,163.70 84.50,163.67 85.00,163.95 85.50,164.41 86.00,164.02 86.50,163.65 87.00,163.38 87.50,163.46 88.00,163.40 88.50,163.23 89.00,162.81 89.50,163.03 90.00,163.44 90.50,162.20 91.00,162.76 91.50,161.98 92.00,162.66 92.50,162.22 93.00,161.62 93.50,162.26 94.00,162.73 94.50,161.99 95.00,162.23 95.50,161.65 96.00,160.78 96.50,161.56 97.00,161.09 97.50,160.57 98.00,161.19 98.50,160.86 99.00,160.41 99.50,160.72 100.00,159.94 100.50,160.29 101.00,159.55 101.50,159.88 102.00,159.11 102.50,159.82 103.00,159.19 103.50,159.40 104.00,158.40 104.50,158.30 105.00,158.52 105.50,157.02 106.00,157.35 106.50,157.81 107.00,157.31 107.50,157.18 108.00,156.39 108.50,156.33 109.00,155.48 109.50,154.82 110.00,154.23 110.50,154.11 111.00,153.55 111.50,152.91 112.00,151.23 112.50,151.06 113.00,150.81 113.50,150.23 114.00,148.91 114.50,147.64 115.00,145.83 115.50,145.92 116.00,143.27 116.50,142.59 117.00,140.60 117.50,137.82 118.00,134.93 118.50,132.45 119.00,129.24 119.50,127.09 120.00,124.30 120.50,121.63 121.00,119.02 121.50,116.83 122.00,114.08 122.50,112.64 123.00,110.86 123.50,111.09 124.00,112.19 124.50,113.39 125.00,115.63 125.50,117.72 126.00,120.32 126.50,122.48 127.00,125.10 127.50,127.28 128.00,129.69 128.50,132.90 129.00,135.44 129.50,137.40 130.00,140.20 130.50,141.52 131.00,144.25 131.50,146.17 132.00,148.03 132.50,149.25 133.00,150.83 133.50,151.22 134.00,151.90 134.50,151.95 135.00,151.80 135.50,152.41 136.00,152.33 136.50,153.03 137.00,153.32 137.50,152.89 138.00,152.31 138.50,152.04 139.00,151.84 139.50,150.86 140.00,151.05 140.50,150.75 141.00,150.21 141.50,149.98 142.00,149.90 142.50,149.25 143.00,148.91 143.50,149.07 144.00,148.40 144.50,148.34 145.00,146.59 145.50,144.84 146.00,144.02 146.50,142.27 147.00,139.75 147.50,137.48 148.00,135.75 148.50,132.74 149.00,131.02 149.50,128.73 150.00,128.17 150.50,126.36 151.00,126.08 151.50,126.09 152.00,125.31 152.50,126.01 153.00,126.27 153.50,127.22 154.00,128.21 154.50,130.43 155.00,132.01 155.50,135.03 156.00,136.60 156.50,139.41 157.00,142.22 157.50,145.22 158.00,147.34 158.50,148.05 159.00,149.23 159.50,150.25 160.00,152.45 160.50,152.94 161.00,153.59 161.50,154.68 162.00,154.48 162.50,154.97 163.00,155.71 163.50,155.13 164.00,154.53 164.50,153.60 165.00,153.69 165.50,153.65 166.00,152.07 166.50,151.99 167.00,151.37 167.50,151.33 168.00,151.09 168.50,151.12 169.00,151.09 169.50,151.72 170.00,151.88 170.50,152.43 171.00,152.89 171.50,153.67 172.00,153.83 172.50,154.56 173.00,155.68 173.50,155.85 174.00,156.39 174.50,157.32 175.00,157.68 175.50,158.21 176.00,158.86 176.50,158.95 177.00,160.14 177.50,161.02 178.00,161.31 178.50,161.07 179.00,162.18 179.50,162.16 180.00,162.73 180.50,163.11 181.00,162.82 181.50,163.77 182.00,163.33 182.50,163.68 183.00,163.66 183.50,163.95 184.00,163.92 184.50,163.02 185.00,163.57 185.50,162.83 186.00,163.45 186.50,163.87 187.00,163.96 187.50,164.11 188.00,163.55 188.50,163.82 189.00,163.76 189.50,164.20 190.00,164.34 190.50,163.70 191.00,165.19 191.50,163.91 192.00,163.83 192.50,164.21 193.00,164.32 193.50,164.30 194.00,163.93 194.50,164.72 195.00,164.27 195.50,164.82 196.00,164.81 196.50,163.90 197.00,164.03 197.50,164.04 198.00,164.48 198.50,164.40 199.00,164.45 199.50,164.04 200.00,164.42 200.50,164.69 201.00,163.66 201.50,163.97 202.00,164.03 202.50,163.79 203.00,163.65 203.50,164.23 204.00,163.94 204.50,163.66 205.00,162.98 205.50,163.90 206.00,163.12 206.50,162.66 207.00,162.61 207.50,162.40 208.00,163.15 208.50,162.30 209.00,162.05 209.50,161.07 210.00,161.85 210.50,160.97 211.00,160.66 211.50,160.93 212.00,160.03 212.50,160.20 213.00,159.86 213.50,158.37 214.00,158.46 214.50,157.43 215.00,157.39 215.50,157.09 216.00,155.57 216.50,155.85 217.00,153.99 217.50,152.33 218.00,151.27 218.50,150.25 219.00,148.20 219.50,147.35 220.00,145.41 220.50,144.52 221.00,142.13 221.50,140.13 222.00,139.43 222.50,137.60 223.00,137.08 223.50,137.39 224.00,136.79 224.50,138.07 225.00,138.81 225.50,139.87 226.00,142.34 226.50,144.88 227.00,146.25 227.50,147.22 228.00,148.17 228.50,148.69 229.00,149.83 229.50,150.39 230.00,150.90 230.50,150.34 231.00,151.56 231.50,151.55 232.00,151.33 232.50,152.15 233.00,152.67 233.50,152.81 234.00,153.12 234.50,153.43 235.00,153.64 235.50,153.55 236.00,153.08 236.50,153.81 237.00,154.47 237.50,154.49 238.00,155.23 238.50,155.62 239.00,155.72 239.50,156.71 240.00,156.05 240.50,157.04 241.00,156.83 241.50,156.96 242.00,157.66 242.50,157.43 243.00,158.13 243.50,157.59 244.00,158.19 244.50,158.06 245.00,158.47 245.50,158.65 246.00,158.64 246.50,159.56 247.00,159.31 247.50,160.06 248.00,161.50 248.50,162.33 249.00,162.93 249.50,163.32 250.00,164.19 250.50,162.97 251.00,163.12 251.50,163.02 252.00,163.66 252.50,163.42 253.00,163.68 253.50,163.59 254.00,163.13 254.50,162.86 255.00,162.63 255.50,163.50 256.00,162.75 256.50,162.24 257.00,161.52 257.50,161.17 258.00,160.73 258.50,160.38 259.00,159.29 259.50,159.68 260.00,159.11 260.50,158.89 261.00,158.42 261.50,158.25 262.00,157.62 262.50,157.68 263.00,156.40 263.50,156.96 264.00,158.11 264.50,157.31 265.00,157.89 265.50,158.44 266.00,158.07 266.50,158.84 267.00,158.29 267.50,158.28 268.00,158.60 268.50,158.51 269.00,158.95 269.50,158.55 270.00,158.38 270.50,157.44 271.00,158.21 271.50,156.83 272.00,156.48 272.50,156.34 273.00,155.80 273.50,155.38 274.00,155.35 274.50,155.37 275.00,155.01 275.50,154.82 276.00,153.98 276.50,153.55 277.00,154.16 277.50,153.06 278.00,153.08 278.50,153.06 279.00,153.39 279.50,152.75 280.00,153.56 280.50,154.17 281.00,154.83 281.50,154.65 282.00,155.98 282.50,155.55 283.00,157.23 283.50,157.88 284.00,158.46 284.50,158.36 285.00,159.63 285.50,159.49 286.00,159.87 286.50,160.44 287.00,160.94 287.50,161.71 288.00,162.29 288.50,161.57 289.00,162.42 289.50,163.23 290.00,163.27 290.50,163.64 291.00,163.18 291.50,164.26 292.00,163.56 292.50,164.32 293.00,164.84 293.50,165.08 294.00,164.65 294.50,164.83 295.00,164.35 295.50,164.44 296.00,165.06 296.50,164.68 297.00,164.67 297.50,164.24 298.00,164.81 298.50,165.00 299.00,164.51 299.50,164.62 300.00,165.35 300.50,164.86 301.00,164.70 301.50,164.39 302.00,164.57 302.50,164.69 303.00,165.25 303.50,164.54 304.00,165.37 304.50,164.40 305.00,164.59 305.50,164.99 306.00,164.59 306.50,164.37 307.00,164.59 307.50,164.77 308.00,163.98 308.50,164.47 309.00,164.49 309.50,164.36 310.00,164.73 310.50,164.24 311.00,164.28 311.50,164.38 312.00,164.55 312.50,164.11 313.00,164.60 313.50,163.62 314.00,164.23 314.50,163.32 315.00,163.39 315.50,163.40 316.00,163.82 316.50,163.25 317.00,162.64 317.50,163.09 318.00,162.43 318.50,162.10 319.00,162.39 319.50,162.13 320.00,162.28 320.50,161.61 321.00,161.79 321.50,161.74 322.00,161.48 322.50,161.25 323.00,160.91 323.50,161.38 324.00,161.04 324.50,161.11 325.00,160.78 325.50,160.91 326.00,160.55 326.50,160.96 327.00,161.22 327.50,161.02 328.00,161.32 328.50,161.17 329.00,161.58 329.50,161.09 330.00,160.63 330.50,161.41 331.00,161.26 331.50,161.06 332.00,161.72 332.50,161.69 333.00,161.86 333.50,161.71 334.00,162.02 334.50,162.18 335.00,162.85 335.50,162.14 336.00,162.53 336.50,162.83" fill="none" stroke="#1f6fd8" stroke-width="1.3" stroke-linejoin="round" />
<path d="M49.00,171.86 49.50,171.98 50.00,172.84 50.50,172.16 51.00,172.73 51.50,172.55 52.00,172.68 52.50,172.54 53.00,172.86 53.50,173.30 54.00,172.97 54.50,173.47 55.00,173.52 55.50,173.96 56.00,173.57 56.50,174.02 57.00,174.05 57.50,173.92 58.00,173.75 58.50,174.49 59.00,174.02 59.50,174.30 60.00,174.68 60.50,174.83 61.00,174.54 61.50,174.81 62.00,174.87 62.50,175.27 63.00,175.64 63.50,174.89 64.00,175.54 64.50,174.90 65.00,175.58 65.50,175.47 66.00,176.20 66.50,175.94 67.00,175.86 67.50,176.02 68.00,176.11 68.50,176.36 69.00,176.40 69.50,176.66 70.00,176.93 70.50,176.86 71.00,176.57 71.50,176.59 72.00,176.85 72.50,177.30 73.00,177.11 73.50,177.13 74.00,177.38 74.50,177.16 75.00,177.30 75.50,177.72 76.00,177.64 76.50,177.69 77.00,177.93 77.50,177.83 78.00,177.89 78.50,178.02 79.00,178.31 79.50,178.28 80.00,178.11 80.50,178.36 81.00,178.62 81.50,178.94 82.00,178.40 82.50,178.77 83.00,178.71 83.50,178.99 84.00,178.98 84.50,179.24 85.00,179.10 85.50,178.95 86.00,179.00 86.50,179.25 87.00,179.30 87.50,179.76 88.00,179.68 88.50,179.16 89.00,179.52 89.50,179.24 90.00,179.23 90.50,179.76 91.00,179.78 91.50,179.51 92.00,180.09 92.50,179.61 93.00,179.61 93.50,180.01 94.00,179.95 94.50,179.90 95.00,179.95 95.50,180.02 96.00,179.96 96.50,179.96 97.00,179.62 97.50,179.72 98.00,180.10 98.50,179.81 99.00,180.02 99.50,180.12 100.00,179.75 100.50,179.82 101.00,180.11 101.50,179.76 102.00,179.91 102.50,179.77 103.00,179.53 103.50,179.27 104.00,179.03 104.50,178.87 105.00,179.06 105.50,178.90 106.00,178.59 106.50,178.59 107.00,178.06 107.50,178.15 108.00,177.65 108.50,177.33 109.00,177.00 109.50,176.57 110.00,176.55 110.50,175.09 111.00,174.71 111.50,174.10 112.00,173.10 112.50,171.94 113.00,171.35 113.50,169.67 114.00,168.34 114.50,167.28 115.00,165.28 115.50,163.37 116.00,162.16 116.50,160.15 117.00,157.83 117.50,154.83 118.00,151.95 118.50,148.61 119.00,146.12 119.50,143.16 120.00,140.49 120.50,137.29 121.00,135.34 121.50,133.34 122.00,131.60 122.50,129.97 123.00,128.93 123.50,129.10 124.00,130.19 124.50,131.33 125.00,132.71 125.50,134.54 126.00,137.26 126.50,139.21 127.00,142.00 127.50,144.63 128.00,148.04 128.50,151.37 129.00,154.57 129.50,157.50 130.00,159.72 130.50,162.81 131.00,164.83 131.50,166.91 132.00,168.93 132.50,170.57 133.00,172.08 133.50,173.22 134.00,174.22 134.50,174.85 135.00,176.31 135.50,177.22 136.00,177.84 136.50,178.07 137.00,178.29 137.50,178.32 138.00,177.83 138.50,177.95 139.00,176.92 139.50,176.67 140.00,176.32 140.50,175.43 141.00,174.85 141.50,174.21 142.00,172.92 142.50,171.25 143.00,170.04 143.50,168.13 144.00,166.35 144.50,164.88 145.00,163.19 145.50,161.58 146.00,159.20 146.50,157.55 147.00,155.03 147.50,153.14 148.00,150.43 148.50,148.57 149.00,147.01 149.50,146.03 150.00,144.56 150.50,144.27 151.00,143.45 151.50,143.10 152.00,143.74 152.50,144.13 153.00,145.18 153.50,146.37 154.00,147.08 154.50,148.17 155.00,149.86 155.50,151.96 156.00,153.93 156.50,155.90 157.00,158.60 157.50,161.64 158.00,164.47 158.50,165.66 159.00,168.36 159.50,169.87 160.00,171.43 160.50,172.64 161.00,173.37 161.50,173.69 162.00,174.00 162.50,174.02 163.00,174.36 163.50,173.50 164.00,172.72 164.50,172.04 165.00,171.23 165.50,171.03 166.00,170.65 166.50,170.06 167.00,169.04 167.50,169.30 168.00,168.75 168.50,168.58 169.00,168.89 169.50,169.20 170.00,169.69 170.50,169.79 171.00,170.08 171.50,170.84 172.00,171.87 172.50,171.99 173.00,172.88 173.50,173.44 174.00,174.53 174.50,174.17 175.00,175.34 175.50,175.46 176.00,176.19 176.50,176.88 177.00,178.13 177.50,177.91 178.00,178.23 178.50,179.39 179.00,179.44 179.50,180.00 180.00,180.42 180.50,180.77 181.00,180.97 181.50,181.26 182.00,181.49 182.50,181.77 183.00,181.69 183.50,181.79 184.00,181.89 184.50,182.37 185.00,182.38 185.50,182.63 186.00,182.75 186.50,183.10 187.00,182.91 187.50,183.13 188.00,182.83 188.50,182.95 189.00,183.18 189.50,183.08 190.00,183.54 190.50,183.21 191.00,183.56 191.50,183.12 192.00,183.47 192.50,183.69 193.00,183.77 193.50,183.53 194.00,183.97 194.50,184.19 195.00,184.18 195.50,183.96 196.00,184.01 196.50,183.92 197.00,184.31 197.50,184.48 198.00,184.09 198.50,183.85 199.00,184.20 199.50,184.26 200.00,183.52 200.50,184.02 201.00,184.33 201.50,183.96 202.00,183.80 202.50,183.65 203.00,183.65 203.50,183.11 204.00,182.98 204.50,183.07 205.00,182.69 205.50,182.72 206.00,182.12 206.50,182.46 207.00,182.24 207.50,181.81 208.00,181.52 208.50,181.47 209.00,180.56 209.50,180.19 210.00,179.73 210.50,179.42 211.00,178.79 211.50,178.41 212.00,177.61 212.50,176.74 213.00,175.96 213.50,175.74 214.00,174.68 214.50,173.80 215.00,172.94 215.50,171.94 216.00,171.05 216.50,169.87 217.00,168.32 217.50,166.79 218.00,165.20 218.50,163.65 219.00,162.67 219.50,160.66 220.00,158.80 220.50,157.11 221.00,155.02 221.50,153.38 222.00,151.87 222.50,151.06 223.00,150.14 223.50,149.80 224.00,150.06 224.50,150.87 225.00,151.60 225.50,152.27 226.00,153.99 226.50,156.19 227.00,158.61 227.50,159.91 228.00,161.38 228.50,162.36 229.00,163.66 229.50,164.72 230.00,165.41 230.50,166.49 231.00,167.31 231.50,167.77 232.00,168.67 232.50,169.41 233.00,169.68 233.50,170.22 234.00,170.69 234.50,171.13 235.00,171.76 235.50,172.10 236.00,172.54 236.50,172.85 237.00,173.06 237.50,173.52 238.00,174.10 238.50,174.11 239.00,174.52 239.50,175.29 240.00,175.50 240.50,175.45 241.00,176.02 241.50,176.07 242.00,176.81 242.50,176.64 243.00,177.02 243.50,177.49 244.00,177.23 244.50,177.81 245.00,177.55 245.50,177.94 246.00,178.03 246.50,178.33 247.00,178.76 247.50,179.33 248.00,179.88 248.50,181.02 249.00,181.67 249.50,182.27 250.00,182.48 250.50,181.92 251.00,182.43 251.50,182.40 252.00,181.99 252.50,182.25 253.00,182.28 253.50,181.80 254.00,181.56 254.50,181.65 255.00,182.06 255.50,181.22 256.00,180.53 256.50,180.27 257.00,179.65 257.50,179.29 258.00,178.93 258.50,177.99 259.00,178.16 259.50,177.91 260.00,177.10 260.50,176.57 261.00,176.41 261.50,175.52 262.00,175.19 262.50,174.93 263.00,175.07 263.50,175.23 264.00,175.29 264.50,175.66 265.00,175.96 265.50,176.10 266.00,176.03 266.50,176.34 267.00,176.84 267.50,176.55 268.00,176.82 268.50,176.81 269.00,176.74 269.50,176.29 270.00,175.87 270.50,176.22 271.00,175.46 271.50,174.71 272.00,174.49 272.50,174.31 273.00,173.76 273.50,173.59 274.00,172.98 274.50,172.68 275.00,172.41 275.50,172.04 276.00,171.40 276.50,171.72 277.00,171.67 277.50,171.71 278.00,171.62 278.50,172.24 279.00,172.66 279.50,172.73 280.00,173.06 280.50,173.96 281.00,174.05 281.50,174.82 282.00,175.43 282.50,175.27 283.00,175.64 283.50,176.17 284.00,176.71 284.50,176.76 285.00,177.67 285.50,178.09 286.00,178.50 286.50,178.73 287.00,179.46 287.50,179.85 288.00,179.76 288.50,180.70 289.00,180.49 289.50,180.87 290.00,180.93 290.50,181.33 291.00,181.70 291.50,181.49 292.00,181.50 292.50,181.90 293.00,181.86 293.50,182.10 294.00,182.34 294.50,182.46 295.00,182.83 295.50,182.47 296.00,182.83 296.50,182.75 297.00,183.20 297.50,183.51 298.00,183.13 298.50,183.47 299.00,183.09 299.50,182.93 300.00,183.05 300.50,183.03 301.00,183.20 301.50,183.39 302.00,183.72 302.50,183.67 303.00,183.67 303.50,183.54 304.00,183.52 304.50,183.71 305.00,183.77 305.50,183.83 306.00,183.89 306.50,183.82 307.00,183.49 307.50,183.68 308.00,183.76 308.50,184.29 309.00,183.88 309.50,184.11 310.00,184.28 310.50,184.06 311.00,183.92 311.50,183.93 312.00,183.75 312.50,183.96 313.00,184.04 313.50,183.83 314.00,183.76 314.50,183.62 315.00,183.74 315.50,183.07 316.00,183.09 316.50,183.05 317.00,183.02 317.50,182.14 318.00,182.40 318.50,182.32 319.00,182.00 319.50,182.21 320.00,181.90 320.50,181.58 321.00,181.14 321.50,181.02 322.00,180.90 322.50,181.02 323.00,180.53 323.50,180.22 324.00,180.24 324.50,180.33 325.00,180.74 325.50,180.90 326.00,180.31 326.50,180.61 327.00,180.72 327.50,180.72 328.00,180.46 328.50,180.25 329.00,180.44 329.50,180.20 330.00,180.65 330.50,180.79 331.00,180.28 331.50,180.69 332.00,180.80 332.50,181.03 333.00,181.10 333.50,181.03 334.00,180.78 334.50,180.90 335.00,181.27 335.50,180.96 336.00,181.13 336.50,181.51" fill="none" stroke="#7f7f7f" stroke-width="1.3" stroke-linejoin="round" />
<line x1="123.30" y1="155.6" x2="123.30" y2="216.8" stroke="#555" stroke-width="0.9" />
<line x1="152.50" y1="170.7" x2="152.50" y2="216.8" stroke="#555" stroke-width="0.9" />
<line x1="168.70" y1="204" x2="168.70" y2="216.8" stroke="#555" stroke-width="0.9" />
<line x1="172.90" y1="214.4" x2="172.90" y2="216.8" stroke="#555" stroke-width="0.9" />
<line x1="224.10" y1="181.9" x2="224.10" y2="216.8" stroke="#555" stroke-width="0.9" />
<line x1="235.90" y1="208.2" x2="235.90" y2="216.8" stroke="#555" stroke-width="0.9" />
<line x1="248.10" y1="213.0" x2="248.10" y2="216.8" stroke="#555" stroke-width="0.9" />
<line x1="264.50" y1="210" x2="264.50" y2="216.8" stroke="#555" stroke-width="0.9" />
<line x1="275.70" y1="209.5" x2="275.70" y2="216.8" stroke="#555" stroke-width="0.9" />
<line x1="280.50" y1="208.5" x2="280.50" y2="216.8" stroke="#555" stroke-width="0.9" />
<line x1="281.70" y1="209.5" x2="281.70" y2="216.8" stroke="#555" stroke-width="0.9" />
<line x1="302.10" y1="213.5" x2="302.10" y2="216.8" stroke="#555" stroke-width="0.9" />
<line x1="331.70" y1="211" x2="331.70" y2="216.8" stroke="#555" stroke-width="0.9" />
<text transform="translate(119.9,190.7) rotate(-90)" x="0" y="0" font-size="9.0" font-weight="bold" text-anchor="middle" fill="#505050" stroke="none">(110)</text>
<text transform="translate(148.8,202.2) rotate(-90)" x="0" y="0" font-size="9.0" font-weight="bold" text-anchor="middle" fill="#505050" stroke="none">(101)</text>
<text transform="translate(165.9,203.3) rotate(-90)" x="0" y="0" font-size="9.0" font-weight="bold" text-anchor="middle" fill="#505050" stroke="none">(200)</text>
<text transform="translate(221.7,201.8) rotate(-90)" x="0" y="0" font-size="9.0" font-weight="bold" text-anchor="middle" fill="#505050" stroke="none">(211)</text>
<text transform="translate(234.6,196.5) rotate(-90)" x="0" y="0" font-size="9.0" font-weight="bold" text-anchor="middle" fill="#505050" stroke="none">(220)</text>
<text transform="translate(262.1,203) rotate(-90)" x="0" y="0" font-size="9.0" font-weight="bold" text-anchor="middle" fill="#505050" stroke="none">(310)</text>
<text transform="translate(274.3,198.7) rotate(-90)" x="0" y="0" font-size="9.0" font-weight="bold" text-anchor="middle" fill="#505050" stroke="none">(112)</text>
<text transform="translate(289.1,205.2) rotate(-90)" x="0" y="0" font-size="9.0" font-weight="bold" text-anchor="middle" fill="#505050" stroke="none">(301)</text>
<text x="51.3" y="210.6" font-size="10.4" font-weight="normal" text-anchor="start" fill="#656565" textLength="60.2" lengthAdjust="spacingAndGlyphs">PDF#41-1445</text>
<rect x="48.9" y="2.9" width="288.1" height="213.9" fill="none" stroke="#2a2a2a" stroke-width="1.3"/>
<line x1="56.90" y1="216.8" x2="56.90" y2="220.8" stroke="#2a2a2a" stroke-width="1.1" />
<text x="56.90" y="233.3" font-size="12" font-weight="normal" text-anchor="middle" fill="#000" >10</text>
<line x1="76.90" y1="216.8" x2="76.90" y2="219.10000000000002" stroke="#2a2a2a" stroke-width="1.1" />
<line x1="96.90" y1="216.8" x2="96.90" y2="220.8" stroke="#2a2a2a" stroke-width="1.1" />
<text x="96.90" y="233.3" font-size="12" font-weight="normal" text-anchor="middle" fill="#000" >20</text>
<line x1="116.90" y1="216.8" x2="116.90" y2="219.10000000000002" stroke="#2a2a2a" stroke-width="1.1" />
<line x1="136.90" y1="216.8" x2="136.90" y2="220.8" stroke="#2a2a2a" stroke-width="1.1" />
<text x="136.90" y="233.3" font-size="12" font-weight="normal" text-anchor="middle" fill="#000" >30</text>
<line x1="156.90" y1="216.8" x2="156.90" y2="219.10000000000002" stroke="#2a2a2a" stroke-width="1.1" />
<line x1="176.90" y1="216.8" x2="176.90" y2="220.8" stroke="#2a2a2a" stroke-width="1.1" />
<text x="176.90" y="233.3" font-size="12" font-weight="normal" text-anchor="middle" fill="#000" >40</text>
<line x1="196.90" y1="216.8" x2="196.90" y2="219.10000000000002" stroke="#2a2a2a" stroke-width="1.1" />
<line x1="216.90" y1="216.8" x2="216.90" y2="220.8" stroke="#2a2a2a" stroke-width="1.1" />
<text x="216.90" y="233.3" font-size="12" font-weight="normal" text-anchor="middle" fill="#000" >50</text>
<line x1="236.90" y1="216.8" x2="236.90" y2="219.10000000000002" stroke="#2a2a2a" stroke-width="1.1" />
<line x1="256.90" y1="216.8" x2="256.90" y2="220.8" stroke="#2a2a2a" stroke-width="1.1" />
<text x="256.90" y="233.3" font-size="12" font-weight="normal" text-anchor="middle" fill="#000" >60</text>
<line x1="276.90" y1="216.8" x2="276.90" y2="219.10000000000002" stroke="#2a2a2a" stroke-width="1.1" />
<line x1="296.90" y1="216.8" x2="296.90" y2="220.8" stroke="#2a2a2a" stroke-width="1.1" />
<text x="296.90" y="233.3" font-size="12" font-weight="normal" text-anchor="middle" fill="#000" >70</text>
<line x1="316.90" y1="216.8" x2="316.90" y2="219.10000000000002" stroke="#2a2a2a" stroke-width="1.1" />
<line x1="336.90" y1="216.8" x2="336.90" y2="220.8" stroke="#2a2a2a" stroke-width="1.1" />
<text x="336.90" y="233.3" font-size="12" font-weight="normal" text-anchor="middle" fill="#000" >80</text>
<text x="193.2" y="247.5" font-size="13.6" font-weight="bold" text-anchor="middle" fill="#000"  stroke="#000" stroke-width="0.4">2 Theta (degree)</text>
<text transform="translate(41.6,102.1) rotate(-90)" x="0" y="0" font-size="14.6" font-weight="bold" text-anchor="middle" fill="#000"  stroke="#000" stroke-width="0.4">Intensity (a. u.)</text>
<text x="7.7" y="25.0" font-size="29.0" font-weight="normal" text-anchor="start" fill="#000" letter-spacing="1.4" stroke="#000" stroke-width="0.9">(a)</text>
<text x="296.5" y="63.8" font-size="11.4" font-weight="bold" text-anchor="start" fill="#000"  stroke="#000" stroke-width="0.4">LGO</text>
<text x="296.5" y="83.3" font-size="11.4" font-weight="bold" text-anchor="start" fill="#000"  stroke="#000" stroke-width="0.4">SGO</text>
<text x="232.5" y="95.6" font-size="11.4" font-weight="bold" text-anchor="start" fill="#000"  stroke="#000" stroke-width="0.4">SnO<tspan font-size="7.98" dy="2.28">2</tspan><tspan dy="-2.28"> nanoparticles</tspan></text>
<text x="232.5" y="132.0" font-size="11.4" font-weight="bold" text-anchor="start" fill="#e8352b"  stroke="#e8352b" stroke-width="0.4">SnO<tspan font-size="7.98" dy="2.28">2</tspan><tspan dy="-2.28">@C@half-rGO</tspan></text>
<text x="263.6" y="151.6" font-size="11.4" font-weight="bold" text-anchor="start" fill="#1f6fd8"  stroke="#1f6fd8" stroke-width="0.4">SnO</text>
<text x="286.6" y="154.5" font-size="7.8" font-weight="bold" text-anchor="start" fill="#1f6fd8"  stroke="#1f6fd8" stroke-width="0.4">2</text>
<text x="290.4" y="158.4" font-size="11.4" font-weight="bold" text-anchor="start" fill="#1f6fd8"  stroke="#1f6fd8" stroke-width="0.4">@C/rGO</text>
<text x="291.2" y="178.9" font-size="11.4" font-weight="bold" text-anchor="start" fill="#555"  stroke="#555" stroke-width="0.4">SnO<tspan font-size="7.98" dy="2.28">2</tspan><tspan dy="-2.28">/C</tspan></text>
<path d="M383.00,101.14 383.50,100.58 384.00,100.93 384.50,101.22 385.00,100.89 385.50,101.32 386.00,101.33 386.50,100.61 387.00,100.62 387.50,100.72 388.00,100.29 388.50,100.80 389.00,100.55 389.50,100.84 390.00,100.31 390.50,100.17 391.00,101.07 391.50,100.07 392.00,100.12 392.50,100.01 393.00,100.11 393.50,99.84 394.00,100.09 394.50,99.81 395.00,99.85 395.50,100.07 396.00,100.13 396.50,99.99 397.00,99.50 397.50,99.83 398.00,99.58 398.50,99.52 399.00,98.89 399.50,99.65 400.00,99.30 400.50,99.87 401.00,99.42 401.50,98.73 402.00,98.56 402.50,99.37 403.00,98.58 403.50,99.05 404.00,98.62 404.50,99.39 405.00,98.60 405.50,99.02 406.00,98.88 406.50,98.17 407.00,98.14 407.50,98.70 408.00,98.10 408.50,97.72 409.00,98.37 409.50,98.78 410.00,97.79 410.50,98.22 411.00,97.61 411.50,98.07 412.00,97.44 412.50,97.93 413.00,97.58 413.50,97.26 414.00,97.35 414.50,97.01 415.00,96.74 415.50,96.70 416.00,96.98 416.50,96.57 417.00,97.03 417.50,96.99 418.00,96.91 418.50,96.50 419.00,96.62 419.50,96.52 420.00,96.92 420.50,96.10 421.00,96.18 421.50,96.15 422.00,96.10 422.50,95.81 423.00,95.77 423.50,96.26 424.00,95.59 424.50,96.04 425.00,96.34 425.50,95.97 426.00,94.79 426.50,95.60 427.00,95.39 427.50,95.30 428.00,94.43 428.50,95.15 429.00,94.38 429.50,95.08 430.00,94.87 430.50,95.24 431.00,94.07 431.50,93.51 432.00,94.25 432.50,94.01 433.00,93.39 433.50,93.80 434.00,93.35 434.50,92.42 435.00,92.49 435.50,92.19 436.00,92.01 436.50,91.81 437.00,91.16 437.50,90.99 438.00,90.89 438.50,90.27 439.00,89.80 439.50,89.36 440.00,88.99 440.50,87.87 441.00,88.07 441.50,87.08 442.00,86.85 442.50,85.63 443.00,85.74 443.50,84.73 444.00,83.35 444.50,83.03 445.00,81.76 445.50,81.68 446.00,80.19 446.50,78.57 447.00,77.56 447.50,75.92 448.00,74.66 448.50,72.56 449.00,70.75 449.50,68.27 450.00,67.02 450.50,65.58 451.00,63.25 451.50,61.16 452.00,59.28 452.50,56.90 453.00,55.29 453.50,52.87 454.00,51.38 454.50,49.47 455.00,47.73 455.50,46.73 456.00,44.54 456.50,43.66 457.00,41.95 457.50,41.99 458.00,41.22 458.50,40.13 459.00,39.90 459.50,39.14 460.00,39.22 460.50,39.25 461.00,39.62 461.50,40.57 462.00,41.03 462.50,41.94 463.00,43.38 463.50,44.23 464.00,44.96 464.50,46.69 465.00,47.76 465.50,49.24 466.00,50.40 466.50,52.74 467.00,54.57 467.50,55.11 468.00,57.31 468.50,58.81 469.00,59.65 469.50,61.44 470.00,63.29 470.50,64.47 471.00,66.09 471.50,66.39 472.00,67.74 472.50,69.18 473.00,70.15 473.50,70.88 474.00,71.56 474.50,72.33 475.00,73.01 475.50,74.08 476.00,73.60 476.50,75.71 477.00,75.49 477.50,75.63 478.00,76.71 478.50,76.37 479.00,77.34 479.50,77.39 480.00,78.05 480.50,78.41 481.00,78.84 481.50,78.42 482.00,78.66 482.50,78.86 483.00,78.42 483.50,79.11 484.00,78.92 484.50,78.36 485.00,79.18 485.50,79.15 486.00,78.10 486.50,78.64 487.00,78.75 487.50,78.46 488.00,77.67 488.50,77.31 489.00,77.44 489.50,76.89 490.00,76.56 490.50,75.97 491.00,75.56 491.50,74.52 492.00,73.95 492.50,74.25 493.00,72.22 493.50,71.44 494.00,70.06 494.50,68.70 495.00,66.86 495.50,65.82 496.00,63.99 496.50,62.41 497.00,60.60 497.50,57.45 498.00,55.00 498.50,51.69 499.00,49.48 499.50,47.55 500.00,44.56 500.50,41.81 501.00,39.68 501.50,37.46 502.00,35.92 502.50,34.72 503.00,34.48 503.50,32.62 504.00,32.22 504.50,32.02 505.00,32.88 505.50,32.85 506.00,34.12 506.50,34.57 507.00,35.92 507.50,37.67 508.00,41.40 508.50,44.20 509.00,47.68 509.50,51.73 510.00,56.15 510.50,60.66 511.00,66.69 511.50,71.50 512.00,75.58 512.50,79.34 513.00,83.05 513.50,86.21 514.00,89.49 514.50,90.96 515.00,91.93 515.50,92.93 516.00,94.12 516.50,94.60 517.00,95.55 517.50,96.18 518.00,96.69 518.50,96.95 519.00,97.02 519.50,97.56 520.00,97.26 520.50,97.75 521.00,98.23 521.50,98.19 522.00,97.76 522.50,97.91 523.00,97.84 523.50,99.12 524.00,98.03 524.50,98.59 525.00,99.35 525.50,99.15 526.00,99.29 526.50,98.70 527.00,99.18 527.50,100.04 528.00,99.00 528.50,99.19 529.00,98.97 529.50,99.11 530.00,99.28 530.50,99.66 531.00,98.88 531.50,98.72 532.00,99.25 532.50,99.34 533.00,99.78 533.50,99.56 534.00,99.11 534.50,99.55 535.00,99.77 535.50,99.51 536.00,99.32 536.50,99.71 537.00,99.39 537.50,98.90 538.00,100.08 538.50,99.23 539.00,99.64 539.50,99.72 540.00,99.80 540.50,99.90 541.00,99.58 541.50,100.35 542.00,100.26 542.50,100.34 543.00,100.78 543.50,100.86 544.00,101.00 544.50,101.22 545.00,100.77 545.50,100.10 546.00,100.74 546.50,100.70 547.00,100.74 547.50,100.53 548.00,100.45 548.50,101.06 549.00,101.15 549.50,100.44 550.00,101.04 550.50,100.81 551.00,100.75 551.50,101.14 552.00,100.90 552.50,100.74 553.00,100.97 553.50,100.27 554.00,100.77 554.50,100.84 555.00,100.52 555.50,101.08 556.00,101.12 556.50,100.83 557.00,100.99 557.50,101.30 558.00,101.44 558.50,100.81 559.00,101.21 559.50,101.46 560.00,101.09 560.50,100.84 561.00,100.85 561.50,101.02 562.00,100.77 562.50,101.85 563.00,100.95 563.50,101.29 564.00,101.23 564.50,101.40 565.00,101.05 565.50,100.74 566.00,101.77 566.50,101.18 567.00,101.25 567.50,101.29 568.00,101.67 568.50,101.50 569.00,101.65 569.50,101.54 570.00,101.31 570.50,101.35 571.00,101.01 571.50,100.60 572.00,101.20 572.50,100.92 573.00,102.20 573.50,101.85 574.00,101.72 574.50,101.13 575.00,102.05 575.50,100.74 576.00,100.91 576.50,101.07 577.00,101.01 577.50,101.40 578.00,101.43 578.50,102.04 579.00,101.72 579.50,101.81 580.00,101.53 580.50,101.34 581.00,101.15 581.50,100.87 582.00,101.10 582.50,101.28 583.00,101.68 583.50,100.83 584.00,100.95 584.50,101.51 585.00,101.07 585.50,101.55 586.00,101.30 586.50,101.18 587.00,100.98 587.50,101.42 588.00,101.20 588.50,101.25 589.00,101.24 589.50,101.53 590.00,101.52 590.50,100.87 591.00,101.42 591.50,101.62 592.00,101.84 592.50,101.76 593.00,101.56 593.50,101.09 594.00,101.22 594.50,101.81 595.00,101.25 595.50,101.85 596.00,101.94 596.50,101.12 597.00,101.65 597.50,101.46 598.00,102.21 598.50,101.79 599.00,101.32 599.50,101.64 600.00,101.18 600.50,101.45 601.00,101.57 601.50,101.55 602.00,101.61 602.50,101.18 603.00,100.85 603.50,101.37 604.00,101.19 604.50,101.25 605.00,102.25 605.50,101.91 606.00,101.44 606.50,101.00 607.00,101.05 607.50,101.63 608.00,101.87 608.50,101.40 609.00,101.55 609.50,101.59 610.00,101.87 610.50,100.84 611.00,101.55 611.50,101.64 612.00,101.83 612.50,101.64 613.00,101.11 613.50,101.30 614.00,100.97 614.50,101.57 615.00,101.57 615.50,101.68 616.00,101.16 616.50,101.10 617.00,102.03 617.50,101.56 618.00,102.11 618.50,101.65 619.00,100.99 619.50,101.78 620.00,101.93 620.50,101.34 621.00,100.83 621.50,101.73 622.00,101.45 622.50,101.60 623.00,100.56 623.50,101.66 624.00,100.54 624.50,101.20 625.00,101.81 625.50,100.86 626.00,100.85 626.50,101.34 627.00,102.08 627.50,102.07 628.00,101.29 628.50,101.85 629.00,101.70 629.50,101.59 630.00,101.62 630.50,101.25 631.00,101.78 631.50,101.87 632.00,102.44 632.50,101.82 633.00,100.64 633.50,101.08 634.00,101.62 634.50,101.52 635.00,100.85 635.50,101.45 636.00,101.37 636.50,101.48 637.00,101.46 637.50,101.82 638.00,102.01 638.50,101.74 639.00,101.11 639.50,101.20 640.00,101.27 640.50,101.48 641.00,101.35 641.50,101.37 642.00,101.17 642.50,101.83 643.00,101.79 643.50,101.83 644.00,101.46 644.50,101.65 645.00,101.17 645.50,101.13 646.00,101.29 646.50,101.68 647.00,101.42 647.50,101.07 648.00,101.50 648.50,101.62 649.00,101.52 649.50,101.23 650.00,101.48 650.50,101.30 651.00,101.33 651.50,101.41 652.00,101.70 652.50,102.07 653.00,101.97 653.50,101.64 654.00,101.28 654.50,101.31 655.00,101.32 655.50,101.81 656.00,100.43 656.50,101.48 657.00,100.69 657.50,101.38 658.00,101.84 658.50,101.05 659.00,100.56 659.50,101.81 660.00,101.88 660.50,101.52 661.00,101.78 661.50,101.05 662.00,101.73 662.50,101.91 663.00,101.53 663.50,101.40 664.00,101.75 664.50,101.69 665.00,101.02 665.50,101.75 666.00,101.53 666.50,101.32 667.00,101.71 667.50,101.57 668.00,101.50 668.50,101.06 669.00,101.52 669.50,100.83 670.00,101.17 670.50,100.61 671.00,100.60" fill="none" stroke="#d9643e" stroke-width="1.1" stroke-linejoin="round" />
<path d="M383.00,136.86 383.50,136.61 384.00,136.61 384.50,136.72 385.00,136.58 385.50,136.08 386.00,136.35 386.50,136.24 387.00,136.01 387.50,136.09 388.00,135.94 388.50,135.77 389.00,135.81 389.50,135.94 390.00,136.51 390.50,135.44 391.00,135.83 391.50,135.07 392.00,136.07 392.50,135.32 393.00,135.41 393.50,135.74 394.00,135.56 394.50,134.62 395.00,135.27 395.50,134.92 396.00,135.14 396.50,134.90 397.00,135.03 397.50,134.79 398.00,134.56 398.50,134.95 399.00,133.92 399.50,134.23 400.00,133.97 400.50,134.17 401.00,133.99 401.50,134.00 402.00,133.80 402.50,133.72 403.00,133.22 403.50,133.70 404.00,133.73 404.50,133.32 405.00,133.21 405.50,133.12 406.00,133.85 406.50,133.23 407.00,133.21 407.50,132.88 408.00,132.71 408.50,132.49 409.00,133.24 409.50,132.01 410.00,132.62 410.50,132.41 411.00,132.24 411.50,131.68 412.00,131.71 412.50,132.39 413.00,131.71 413.50,132.17 414.00,132.01 414.50,131.89 415.00,131.87 415.50,131.09 416.00,131.27 416.50,131.59 417.00,130.84 417.50,131.79 418.00,130.94 418.50,131.05 419.00,130.64 419.50,131.07 420.00,130.62 420.50,130.72 421.00,130.35 421.50,131.10 422.00,130.04 422.50,130.71 423.00,130.56 423.50,130.56 424.00,129.98 424.50,130.63 425.00,130.52 425.50,130.16 426.00,130.13 426.50,129.87 427.00,130.06 427.50,129.45 428.00,129.83 428.50,129.66 429.00,128.91 429.50,128.36 430.00,129.11 430.50,128.96 431.00,129.30 431.50,128.72 432.00,128.33 432.50,127.80 433.00,127.99 433.50,127.54 434.00,127.05 434.50,127.06 435.00,127.12 435.50,126.40 436.00,125.60 436.50,125.65 437.00,124.71 437.50,124.07 438.00,124.31 438.50,123.43 439.00,123.49 439.50,122.67 440.00,121.72 440.50,121.46 441.00,121.14 441.50,119.83 442.00,118.66 442.50,117.87 443.00,116.81 443.50,115.62 444.00,114.46 444.50,113.89 445.00,112.92 445.50,111.16 446.00,110.28 446.50,108.93 447.00,107.65 447.50,105.30 448.00,103.44 448.50,101.82 449.00,99.77 449.50,97.88 450.00,96.26 450.50,93.73 451.00,92.08 451.50,89.75 452.00,88.01 452.50,85.77 453.00,83.68 453.50,81.88 454.00,79.94 454.50,78.56 455.00,77.28 455.50,75.20 456.00,74.85 456.50,72.60 457.00,72.47 457.50,71.83 458.00,70.77 458.50,70.47 459.00,69.92 459.50,70.32 460.00,68.99 460.50,70.10 461.00,70.27 461.50,71.57 462.00,72.62 462.50,73.44 463.00,74.28 463.50,75.28 464.00,76.16 464.50,78.13 465.00,79.22 465.50,80.10 466.00,81.51 466.50,83.42 467.00,85.78 467.50,87.60 468.00,89.45 468.50,90.25 469.00,91.87 469.50,93.87 470.00,94.83 470.50,96.37 471.00,96.95 471.50,98.55 472.00,99.89 472.50,100.92 473.00,101.97 473.50,102.53 474.00,104.57 474.50,104.89 475.00,105.14 475.50,106.82 476.00,107.22 476.50,108.16 477.00,108.50 477.50,108.89 478.00,109.42 478.50,110.26 479.00,110.78 479.50,111.00 480.00,111.36 480.50,111.86 481.00,111.82 481.50,112.33 482.00,112.59 482.50,112.50 483.00,112.52 483.50,112.50 484.00,112.28 484.50,112.16 485.00,113.13 485.50,112.60 486.00,112.32 486.50,112.95 487.00,112.60 487.50,112.12 488.00,112.27 488.50,111.66 489.00,111.64 489.50,111.86 490.00,111.14 490.50,110.10 491.00,109.75 491.50,109.15 492.00,107.84 492.50,106.82 493.00,106.68 493.50,104.82 494.00,103.12 494.50,102.12 495.00,101.23 495.50,98.95 496.00,97.37 496.50,94.52 497.00,93.21 497.50,91.87 498.00,89.30 498.50,87.87 499.00,85.56 499.50,83.57 500.00,82.02 500.50,79.10 501.00,76.95 501.50,75.12 502.00,73.42 502.50,71.45 503.00,71.45 503.50,70.13 504.00,69.16 504.50,68.85 505.00,68.22 505.50,68.90 506.00,69.01 506.50,70.04 507.00,70.53 507.50,71.95 508.00,74.21 508.50,76.96 509.00,80.90 509.50,85.03 510.00,89.64 510.50,94.27 511.00,99.18 511.50,103.52 512.00,107.75 512.50,112.04 513.00,115.45 513.50,118.93 514.00,121.53 514.50,122.22 515.00,124.16 515.50,125.40 516.00,126.41 516.50,126.78 517.00,127.88 517.50,127.91 518.00,128.63 518.50,129.81 519.00,129.22 519.50,130.10 520.00,130.45 520.50,130.79 521.00,130.90 521.50,131.50 522.00,131.05 522.50,131.10 523.00,131.86 523.50,131.39 524.00,132.05 524.50,132.02 525.00,131.86 525.50,132.06 526.00,132.22 526.50,132.49 527.00,132.18 527.50,132.39 528.00,132.03 528.50,132.49 529.00,131.98 529.50,132.70 530.00,132.61 530.50,133.56 531.00,133.33 531.50,132.88 532.00,133.32 532.50,133.14 533.00,132.69 533.50,132.29 534.00,133.57 534.50,133.36 535.00,132.58 535.50,133.53 536.00,133.67 536.50,133.15 537.00,133.70 537.50,132.86 538.00,133.41 538.50,133.54 539.00,133.83 539.50,133.72 540.00,133.69 540.50,133.83 541.00,133.44 541.50,134.21 542.00,133.60 542.50,134.02 543.00,133.77 543.50,133.71 544.00,134.02 544.50,134.00 545.00,134.33 545.50,134.26 546.00,133.70 546.50,134.10 547.00,133.97 547.50,133.68 548.00,133.58 548.50,134.07 549.00,133.81 549.50,133.52 550.00,133.98 550.50,134.09 551.00,134.06 551.50,133.61 552.00,133.83 552.50,134.52 553.00,133.78 553.50,133.94 554.00,134.86 554.50,134.18 555.00,133.89 555.50,133.39 556.00,134.19 556.50,133.60 557.00,134.08 557.50,133.79 558.00,133.51 558.50,134.68 559.00,134.07 559.50,134.43 560.00,134.37 560.50,133.86 561.00,134.15 561.50,134.00 562.00,134.47 562.50,134.28 563.00,134.01 563.50,134.72 564.00,134.33 564.50,134.31 565.00,133.88 565.50,134.30 566.00,133.64 566.50,134.32 567.00,133.84 567.50,134.23 568.00,134.07 568.50,134.25 569.00,134.30 569.50,134.16 570.00,134.16 570.50,133.66 571.00,133.52 571.50,134.62 572.00,134.39 572.50,133.67 573.00,134.86 573.50,133.94 574.00,134.37 574.50,134.34 575.00,134.23 575.50,134.41 576.00,133.72 576.50,134.18 577.00,134.11 577.50,134.23 578.00,134.10 578.50,133.97 579.00,133.94 579.50,134.51 580.00,133.90 580.50,134.33 581.00,134.32 581.50,134.16 582.00,134.35 582.50,134.38 583.00,134.01 583.50,134.31 584.00,134.85 584.50,133.81 585.00,134.08 585.50,133.91 586.00,134.87 586.50,133.68 587.00,134.17 587.50,134.48 588.00,133.85 588.50,134.10 589.00,133.89 589.50,133.67 590.00,134.10 590.50,134.30 591.00,133.98 591.50,134.17 592.00,134.34 592.50,134.51 593.00,133.65 593.50,134.29 594.00,133.85 594.50,133.40 595.00,133.78 595.50,134.26 596.00,134.14 596.50,133.64 597.00,134.57 597.50,134.14 598.00,133.96 598.50,133.79 599.00,134.11 599.50,133.82 600.00,134.34 600.50,134.04 601.00,134.14 601.50,133.80 602.00,133.38 602.50,134.07 603.00,133.52 603.50,133.82 604.00,133.84 604.50,133.56 605.00,134.13 605.50,133.31 606.00,134.32 606.50,133.58 607.00,134.11 607.50,134.21 608.00,133.44 608.50,133.47 609.00,134.04 609.50,133.77 610.00,133.72 610.50,133.04 611.00,133.09 611.50,133.83 612.00,134.13 612.50,133.37 613.00,133.30 613.50,133.66 614.00,133.74 614.50,133.76 615.00,133.39 615.50,132.85 616.00,134.02 616.50,133.33 617.00,133.92 617.50,132.78 618.00,133.59 618.50,133.27 619.00,133.05 619.50,133.75 620.00,133.85 620.50,133.18 621.00,133.60 621.50,132.98 622.00,133.12 622.50,133.24 623.00,133.19 623.50,133.51 624.00,132.85 624.50,133.59 625.00,133.57 625.50,133.14 626.00,132.79 626.50,132.36 627.00,133.14 627.50,132.90 628.00,133.16 628.50,132.74 629.00,133.09 629.50,133.04 630.00,133.05 630.50,133.12 631.00,133.10 631.50,133.32 632.00,132.69 632.50,133.19 633.00,132.97 633.50,132.75 634.00,132.52 634.50,133.35 635.00,132.90 635.50,132.62 636.00,132.80 636.50,132.75 637.00,132.54 637.50,132.22 638.00,132.73 638.50,132.59 639.00,132.52 639.50,132.94 640.00,132.11 640.50,132.21 641.00,132.57 641.50,132.78 642.00,132.67 642.50,132.68 643.00,131.64 643.50,132.55 644.00,132.49 644.50,132.56 645.00,132.05 645.50,132.44 646.00,132.58 646.50,132.76 647.00,132.26 647.50,131.68 648.00,132.13 648.50,132.30 649.00,132.23 649.50,132.68 650.00,131.92 650.50,131.60 651.00,131.71 651.50,132.12 652.00,131.58 652.50,131.47 653.00,131.51 653.50,132.18 654.00,131.81 654.50,131.58 655.00,131.96 655.50,131.87 656.00,131.26 656.50,131.85 657.00,131.61 657.50,130.78 658.00,131.05 658.50,131.52 659.00,131.56 659.50,131.26 660.00,130.98 660.50,131.37 661.00,130.62 661.50,131.41 662.00,131.13 662.50,131.13 663.00,130.88 663.50,131.36 664.00,130.23 664.50,130.70 665.00,131.16 665.50,130.68 666.00,131.39 666.50,131.00 667.00,130.55 667.50,131.16 668.00,130.71 668.50,130.90 669.00,130.45 669.50,130.42 670.00,130.83 670.50,130.58 671.00,130.25" fill="none" stroke="#5e2a22" stroke-width="1.1" stroke-linejoin="round" />
<path d="M383.00,173.01 383.50,173.49 384.00,173.83 384.50,172.88 385.00,173.35 385.50,172.05 386.00,172.52 386.50,173.16 387.00,173.41 387.50,172.81 388.00,172.90 388.50,172.73 389.00,172.91 389.50,172.10 390.00,172.61 390.50,172.15 391.00,172.09 391.50,172.12 392.00,171.95 392.50,171.66 393.00,171.74 393.50,171.40 394.00,172.14 394.50,171.76 395.00,171.27 395.50,171.86 396.00,171.64 396.50,171.25 397.00,170.77 397.50,170.91 398.00,170.89 398.50,171.03 399.00,170.34 399.50,170.06 400.00,170.90 400.50,170.43 401.00,169.90 401.50,169.31 402.00,169.63 402.50,169.68 403.00,169.38 403.50,169.23 404.00,168.78 404.50,168.98 405.00,168.20 405.50,168.07 406.00,167.86 406.50,167.63 407.00,168.34 407.50,166.89 408.00,167.36 408.50,166.75 409.00,166.47 409.50,166.74 410.00,165.97 410.50,166.29 411.00,166.91 411.50,165.87 412.00,165.85 412.50,165.17 413.00,165.41 413.50,164.49 414.00,164.84 414.50,164.49 415.00,165.05 415.50,164.03 416.00,163.69 416.50,163.39 417.00,162.93 417.50,163.38 418.00,163.38 418.50,162.53 419.00,162.68 419.50,162.09 420.00,162.15 420.50,161.97 421.00,161.12 421.50,161.16 422.00,161.58 422.50,160.43 423.00,160.93 423.50,160.64 424.00,160.28 424.50,160.46 425.00,160.38 425.50,160.30 426.00,159.02 426.50,160.34 427.00,159.41 427.50,159.74 428.00,159.13 428.50,158.75 429.00,158.70 429.50,159.58 430.00,158.75 430.50,157.79 431.00,157.66 431.50,157.62 432.00,157.04 432.50,156.45 433.00,155.91 433.50,155.14 434.00,155.29 434.50,154.91 435.00,154.78 435.50,153.27 436.00,153.14 436.50,152.34 437.00,152.22 437.50,151.17 438.00,150.40 438.50,149.45 439.00,149.71 439.50,148.93 440.00,148.69 440.50,147.53 441.00,148.03 441.50,146.26 442.00,146.05 442.50,145.37 443.00,144.96 443.50,143.84 444.00,142.89 444.50,142.17 445.00,142.09 445.50,141.12 446.00,140.47 446.50,139.32 447.00,138.91 447.50,138.18 448.00,137.56 448.50,136.05 449.00,135.49 449.50,135.55 450.00,133.96 450.50,133.19 451.00,132.18 451.50,130.85 452.00,130.02 452.50,129.50 453.00,128.04 453.50,127.83 454.00,125.38 454.50,123.97 455.00,123.21 455.50,121.59 456.00,121.13 456.50,119.06 457.00,117.74 457.50,115.39 458.00,114.69 458.50,113.58 459.00,112.75 459.50,111.74 460.00,111.90 460.50,112.40 461.00,113.61 461.50,114.16 462.00,115.48 462.50,116.18 463.00,117.85 463.50,118.88 464.00,120.27 464.50,122.22 465.00,125.38 465.50,126.80 466.00,128.99 466.50,131.35 467.00,132.30 467.50,133.94 468.00,135.28 468.50,137.47 469.00,137.50 469.50,138.37 470.00,139.16 470.50,139.85 471.00,140.35 471.50,140.03 472.00,141.04 472.50,141.86 473.00,140.81 473.50,141.87 474.00,142.14 474.50,142.10 475.00,142.13 475.50,141.51 476.00,142.89 476.50,142.48 477.00,142.64 477.50,143.25 478.00,142.10 478.50,142.98 479.00,143.28 479.50,143.39 480.00,143.39 480.50,143.92 481.00,143.34 481.50,143.62 482.00,143.55 482.50,142.77 483.00,143.03 483.50,144.02 484.00,143.15 484.50,143.15 485.00,142.61 485.50,142.83 486.00,142.34 486.50,142.41 487.00,142.63 487.50,141.93 488.00,141.78 488.50,142.14 489.00,141.34 489.50,140.71 490.00,140.12 490.50,138.71 491.00,137.84 491.50,136.28 492.00,136.26 492.50,134.83 493.00,133.64 493.50,131.86 494.00,130.94 494.50,129.33 495.00,127.50 495.50,125.17 496.00,123.70 496.50,122.12 497.00,119.75 497.50,117.97 498.00,115.97 498.50,113.24 499.00,111.53 499.50,109.76 500.00,108.96 500.50,107.60 501.00,107.14 501.50,105.50 502.00,104.72 502.50,104.81 503.00,104.36 503.50,104.50 504.00,105.18 504.50,105.25 505.00,106.40 505.50,106.52 506.00,109.77 506.50,112.44 507.00,115.92 507.50,119.83 508.00,126.31 508.50,133.26 509.00,140.87 509.50,144.50 510.00,147.63 510.50,150.13 511.00,152.78 511.50,154.09 512.00,155.99 512.50,157.69 513.00,159.28 513.50,160.67 514.00,162.79 514.50,163.74 515.00,163.94 515.50,165.10 516.00,165.39 516.50,166.79 517.00,167.25 517.50,167.53 518.00,167.68 518.50,168.67 519.00,169.03 519.50,169.12 520.00,169.75 520.50,169.27 521.00,169.71 521.50,169.69 522.00,170.12 522.50,170.72 523.00,170.20 523.50,170.62 524.00,170.24 524.50,170.14 525.00,170.66 525.50,170.52 526.00,170.85 526.50,170.73 527.00,170.13 527.50,169.57 528.00,170.55 528.50,170.15 529.00,170.13 529.50,170.18 530.00,170.56 530.50,170.80 531.00,170.97 531.50,171.78 532.00,170.74 532.50,171.26 533.00,170.93 533.50,171.12 534.00,171.58 534.50,171.80 535.00,171.29 535.50,172.22 536.00,171.56 536.50,172.29 537.00,171.98 537.50,172.36 538.00,172.28 538.50,172.02 539.00,172.32 539.50,171.72 540.00,171.76 540.50,172.12 541.00,172.75 541.50,172.03 542.00,172.11 542.50,172.93 543.00,172.39 543.50,172.41 544.00,172.07 544.50,172.49 545.00,172.71 545.50,172.52 546.00,172.85 546.50,172.74 547.00,173.04 547.50,173.01 548.00,172.73 548.50,173.13 549.00,173.51 549.50,173.05 550.00,172.57 550.50,173.12 551.00,173.04 551.50,174.08 552.00,173.49 552.50,172.90 553.00,173.27 553.50,173.90 554.00,173.04 554.50,173.32 555.00,173.54 555.50,173.53 556.00,173.42 556.50,173.71 557.00,173.20 557.50,173.52 558.00,173.54 558.50,173.66 559.00,173.68 559.50,173.79 560.00,173.67 560.50,173.65 561.00,173.92 561.50,174.11 562.00,174.13 562.50,173.39 563.00,173.88 563.50,174.05 564.00,173.70 564.50,173.95 565.00,173.71 565.50,173.92 566.00,173.25 566.50,173.94 567.00,173.61 567.50,173.52 568.00,173.67 568.50,174.12 569.00,174.10 569.50,173.86 570.00,174.07 570.50,173.62 571.00,173.33 571.50,173.11 572.00,173.74 572.50,173.70 573.00,173.76 573.50,173.77 574.00,174.17 574.50,173.42 575.00,173.47 575.50,174.40 576.00,174.00 576.50,173.62 577.00,173.01 577.50,173.42 578.00,173.59 578.50,173.68 579.00,173.77 579.50,173.62 580.00,174.10 580.50,173.28 581.00,173.59 581.50,173.45 582.00,173.95 582.50,173.74 583.00,173.95 583.50,173.69 584.00,174.97 584.50,173.91 585.00,173.39 585.50,173.64 586.00,173.50 586.50,173.90 587.00,173.97 587.50,173.76 588.00,173.56 588.50,173.38 589.00,174.17 589.50,174.00 590.00,172.58 590.50,173.62 591.00,173.30 591.50,173.46 592.00,174.18 592.50,173.18 593.00,173.21 593.50,174.43 594.00,173.40 594.50,173.48 595.00,173.95 595.50,173.37 596.00,173.56 596.50,173.62 597.00,174.03 597.50,172.96 598.00,173.23 598.50,173.47 599.00,173.83 599.50,173.28 600.00,173.66 600.50,173.31 601.00,173.35 601.50,173.93 602.00,173.39 602.50,174.51 603.00,173.59 603.50,173.85 604.00,173.71 604.50,172.90 605.00,172.89 605.50,173.60 606.00,173.03 606.50,173.22 607.00,173.28 607.50,173.07 608.00,173.80 608.50,173.65 609.00,173.43 609.50,173.55 610.00,173.03 610.50,173.64 611.00,173.03 611.50,173.86 612.00,173.07 612.50,173.10 613.00,173.69 613.50,173.50 614.00,172.93 614.50,173.47 615.00,173.24 615.50,173.24 616.00,173.44 616.50,173.43 617.00,173.55 617.50,173.35 618.00,173.29 618.50,173.13 619.00,173.67 619.50,172.86 620.00,173.79 620.50,173.88 621.00,173.86 621.50,173.04 622.00,173.81 622.50,173.46 623.00,173.42 623.50,174.19 624.00,173.09 624.50,173.21 625.00,172.55 625.50,172.20 626.00,173.06 626.50,173.10 627.00,173.18 627.50,173.02 628.00,172.21 628.50,173.02 629.00,173.27 629.50,173.41 630.00,172.51 630.50,172.51 631.00,172.57 631.50,172.57 632.00,172.21 632.50,172.52 633.00,173.30 633.50,172.36 634.00,172.05 634.50,172.60 635.00,172.50 635.50,172.90 636.00,172.38 636.50,172.56 637.00,172.31 637.50,172.25 638.00,172.70 638.50,172.60 639.00,172.52 639.50,172.70 640.00,172.21 640.50,172.49 641.00,172.53 641.50,172.86 642.00,171.76 642.50,172.28 643.00,172.54 643.50,172.16 644.00,172.37 644.50,172.55 645.00,172.46 645.50,171.66 646.00,171.82 646.50,171.23 647.00,172.42 647.50,172.24 648.00,172.61 648.50,172.13 649.00,171.69 649.50,172.44 650.00,171.57 650.50,172.01 651.00,171.91 651.50,172.22 652.00,172.24 652.50,171.74 653.00,171.60 653.50,171.81 654.00,171.60 654.50,172.10 655.00,171.87 655.50,172.20 656.00,172.59 656.50,171.34 657.00,171.40 657.50,171.75 658.00,171.69 658.50,171.39 659.00,170.87 659.50,172.34 660.00,171.44 660.50,170.96 661.00,170.49 661.50,171.80 662.00,171.38 662.50,171.23 663.00,170.83 663.50,171.12 664.00,170.99 664.50,170.21 665.00,171.99 665.50,171.17 666.00,170.86 666.50,170.60 667.00,170.69 667.50,171.72 668.00,170.97 668.50,170.32 669.00,171.06 669.50,170.89 670.00,170.86 670.50,170.59 671.00,170.54" fill="none" stroke="#e0503e" stroke-width="1.1" stroke-linejoin="round" />
<path d="M383.00,207.87 383.50,207.71 384.00,207.26 384.50,207.38 385.00,207.72 385.50,207.12 386.00,207.61 386.50,207.51 387.00,207.84 387.50,207.60 388.00,207.40 388.50,207.36 389.00,207.58 389.50,207.71 390.00,206.95 390.50,206.74 391.00,206.97 391.50,206.37 392.00,206.85 392.50,207.37 393.00,207.37 393.50,207.51 394.00,206.93 394.50,206.91 395.00,206.59 395.50,206.55 396.00,206.77 396.50,206.93 397.00,206.68 397.50,205.74 398.00,206.55 398.50,206.30 399.00,206.00 399.50,206.17 400.00,206.35 400.50,205.99 401.00,205.59 401.50,206.93 402.00,205.42 402.50,205.70 403.00,205.88 403.50,205.02 404.00,205.41 404.50,204.81 405.00,204.90 405.50,204.61 406.00,205.38 406.50,204.16 407.00,204.70 407.50,204.41 408.00,203.56 408.50,204.74 409.00,203.79 409.50,203.76 410.00,203.78 410.50,203.23 411.00,203.13 411.50,203.23 412.00,202.77 412.50,202.94 413.00,203.18 413.50,202.20 414.00,201.82 414.50,202.14 415.00,202.13 415.50,202.03 416.00,201.19 416.50,200.53 417.00,201.44 417.50,201.15 418.00,201.18 418.50,200.06 419.00,200.34 419.50,200.22 420.00,198.95 420.50,199.68 421.00,199.52 421.50,198.93 422.00,198.61 422.50,198.37 423.00,197.70 423.50,196.96 424.00,196.81 424.50,196.74 425.00,196.16 425.50,196.48 426.00,195.62 426.50,195.37 427.00,194.43 427.50,194.82 428.00,194.06 428.50,194.47 429.00,192.95 429.50,193.29 430.00,192.65 430.50,192.26 431.00,192.56 431.50,191.85 432.00,190.75 432.50,191.06 433.00,189.84 433.50,189.84 434.00,188.44 434.50,188.42 435.00,187.92 435.50,187.39 436.00,186.43 436.50,185.81 437.00,185.95 437.50,185.64 438.00,184.91 438.50,184.24 439.00,183.29 439.50,183.18 440.00,182.54 440.50,181.94 441.00,181.72 441.50,181.18 442.00,180.74 442.50,180.00 443.00,179.31 443.50,179.06 444.00,178.56 444.50,177.63 445.00,177.63 445.50,176.69 446.00,176.10 446.50,175.99 447.00,175.51 447.50,175.39 448.00,174.41 448.50,174.02 449.00,173.57 449.50,172.26 450.00,171.45 450.50,170.13 451.00,169.68 451.50,168.41 452.00,167.41 452.50,166.00 453.00,165.05 453.50,164.09 454.00,163.29 454.50,162.54 455.00,160.51 455.50,159.81 456.00,158.72 456.50,158.51 457.00,156.47 457.50,155.20 458.00,154.61 458.50,153.05 459.00,152.72 459.50,151.42 460.00,152.87 460.50,152.75 461.00,153.46 461.50,154.03 462.00,155.43 462.50,156.73 463.00,157.77 463.50,159.75 464.00,160.37 464.50,161.53 465.00,162.55 465.50,163.83 466.00,164.11 466.50,165.15 467.00,166.13 467.50,167.18 468.00,167.31 468.50,169.38 469.00,169.95 469.50,170.73 470.00,171.91 470.50,172.09 471.00,173.22 471.50,174.21 472.00,175.25 472.50,175.35 473.00,176.09 473.50,176.38 474.00,177.28 474.50,177.30 475.00,178.00 475.50,178.08 476.00,178.16 476.50,178.41 477.00,178.77 477.50,179.62 478.00,180.54 478.50,179.53 479.00,179.50 479.50,180.07 480.00,180.17 480.50,179.90 481.00,180.85 481.50,180.57 482.00,180.66 482.50,180.40 483.00,180.44 483.50,180.73 484.00,179.85 484.50,179.98 485.00,180.18 485.50,179.50 486.00,180.43 486.50,179.45 487.00,179.31 487.50,179.35 488.00,179.53 488.50,178.65 489.00,177.89 489.50,177.19 490.00,176.84 490.50,175.69 491.00,175.80 491.50,174.44 492.00,171.89 492.50,171.58 493.00,170.75 493.50,170.01 494.00,166.96 494.50,165.89 495.00,164.79 495.50,162.44 496.00,161.02 496.50,159.06 497.00,157.55 497.50,154.93 498.00,153.31 498.50,150.86 499.00,149.92 499.50,148.21 500.00,146.57 500.50,145.26 501.00,144.02 501.50,142.79 502.00,142.05 502.50,141.27 503.00,140.31 503.50,139.59 504.00,139.60 504.50,140.03 505.00,141.15 505.50,142.05 506.00,144.40 506.50,146.33 507.00,149.66 507.50,152.78 508.00,156.62 508.50,160.48 509.00,164.62 509.50,169.32 510.00,174.50 510.50,178.37 511.00,182.77 511.50,187.07 512.00,190.69 512.50,193.26 513.00,194.31 513.50,195.92 514.00,196.84 514.50,197.69 515.00,198.52 515.50,198.87 516.00,199.91 516.50,200.56 517.00,200.43 517.50,200.78 518.00,201.94 518.50,201.87 519.00,202.94 519.50,201.86 520.00,203.24 520.50,203.32 521.00,203.80 521.50,204.55 522.00,204.91 522.50,204.72 523.00,205.34 523.50,204.84 524.00,205.53 524.50,205.56 525.00,205.17 525.50,206.21 526.00,205.76 526.50,206.22 527.00,205.87 527.50,206.27 528.00,206.48 528.50,206.32 529.00,206.20 529.50,206.62 530.00,206.53 530.50,206.35 531.00,206.55 531.50,206.55 532.00,206.49 532.50,206.97 533.00,207.31 533.50,206.56 534.00,206.75 534.50,206.52 535.00,206.43 535.50,207.35 536.00,206.78 536.50,207.19 537.00,206.65 537.50,206.96 538.00,207.41 538.50,207.47 539.00,207.44 539.50,207.56 540.00,207.55 540.50,207.88 541.00,208.18 541.50,207.84 542.00,207.66 542.50,207.39 543.00,207.63 543.50,207.74 544.00,208.41 544.50,207.41 545.00,207.72 545.50,207.68 546.00,208.39 546.50,207.89 547.00,207.53 547.50,207.50 548.00,208.38 548.50,207.74 549.00,208.75 549.50,208.78 550.00,208.06 550.50,208.38 551.00,208.55 551.50,208.07 552.00,208.20 552.50,208.45 553.00,208.70 553.50,208.85 554.00,208.14 554.50,208.91 555.00,208.82 555.50,208.80 556.00,208.77 556.50,209.32 557.00,209.53 557.50,208.85 558.00,208.97 558.50,208.49 559.00,208.92 559.50,209.31 560.00,209.05 560.50,209.22 561.00,209.06 561.50,209.14 562.00,209.35 562.50,209.39 563.00,208.45 563.50,209.07 564.00,208.13 564.50,209.16 565.00,208.97 565.50,208.96 566.00,209.72 566.50,209.31 567.00,209.59 567.50,209.42 568.00,209.80 568.50,209.13 569.00,209.13 569.50,209.19 570.00,210.09 570.50,209.09 571.00,209.25 571.50,209.73 572.00,209.58 572.50,209.09 573.00,209.88 573.50,209.44 574.00,209.78 574.50,209.49 575.00,209.56 575.50,209.03 576.00,209.79 576.50,209.05 577.00,209.33 577.50,209.69 578.00,209.19 578.50,209.36 579.00,209.32 579.50,209.38 580.00,209.53 580.50,208.81 581.00,209.15 581.50,210.06 582.00,208.66 582.50,209.12 583.00,209.63 583.50,208.71 584.00,209.05 584.50,209.08 585.00,209.91 585.50,209.06 586.00,209.59 586.50,209.15 587.00,209.37 587.50,208.98 588.00,208.86 588.50,209.21 589.00,208.90 589.50,209.32 590.00,209.42 590.50,209.53 591.00,209.92 591.50,209.88 592.00,209.00 592.50,209.13 593.00,209.98 593.50,209.37 594.00,209.26 594.50,209.77 595.00,209.18 595.50,209.72 596.00,209.29 596.50,209.85 597.00,209.35 597.50,209.69 598.00,209.77 598.50,209.96 599.00,209.12 599.50,209.27 600.00,208.90 600.50,208.80 601.00,209.23 601.50,209.45 602.00,209.84 602.50,209.25 603.00,210.06 603.50,209.46 604.00,209.70 604.50,209.30 605.00,208.94 605.50,209.93 606.00,209.27 606.50,209.76 607.00,209.24 607.50,209.57 608.00,209.30 608.50,209.23 609.00,209.30 609.50,209.58 610.00,208.91 610.50,208.99 611.00,209.67 611.50,209.06 612.00,209.37 612.50,208.83 613.00,209.22 613.50,209.67 614.00,209.31 614.50,209.34 615.00,209.12 615.50,209.29 616.00,208.62 616.50,208.66 617.00,209.37 617.50,208.59 618.00,209.66 618.50,209.49 619.00,208.76 619.50,208.41 620.00,208.31 620.50,209.26 621.00,209.10 621.50,209.60 622.00,209.28 622.50,209.65 623.00,209.40 623.50,208.75 624.00,209.00 624.50,208.76 625.00,208.93 625.50,208.84 626.00,208.93 626.50,209.47 627.00,208.79 627.50,208.55 628.00,208.74 628.50,208.78 629.00,208.73 629.50,208.86 630.00,208.75 630.50,209.28 631.00,209.19 631.50,208.59 632.00,209.19 632.50,209.32 633.00,208.82 633.50,208.51 634.00,208.94 634.50,208.74 635.00,208.87 635.50,208.37 636.00,209.46 636.50,208.64 637.00,208.88 637.50,208.47 638.00,208.72 638.50,207.84 639.00,208.18 639.50,207.75 640.00,208.94 640.50,208.10 641.00,208.02 641.50,208.94 642.00,208.35 642.50,208.45 643.00,208.86 643.50,208.63 644.00,208.54 644.50,208.64 645.00,207.70 645.50,208.81 646.00,208.79 646.50,208.94 647.00,207.53 647.50,207.94 648.00,208.00 648.50,208.76 649.00,208.33 649.50,208.72 650.00,208.22 650.50,207.80 651.00,207.53 651.50,207.75 652.00,208.40 652.50,207.57 653.00,207.21 653.50,207.89 654.00,208.23 654.50,208.56 655.00,208.10 655.50,207.95 656.00,206.94 656.50,207.39 657.00,207.34 657.50,207.48 658.00,207.06 658.50,207.61 659.00,207.72 659.50,207.27 660.00,207.08 660.50,207.20 661.00,207.22 661.50,207.31 662.00,206.68 662.50,207.44 663.00,206.89 663.50,206.76 664.00,207.01 664.50,206.47 665.00,206.97 665.50,207.36 666.00,206.71 666.50,206.57 667.00,206.28 667.50,206.92 668.00,206.73 668.50,205.75 669.00,206.57 669.50,205.94 670.00,205.70 670.50,206.03 671.00,205.77" fill="none" stroke="#3d8ad9" stroke-width="1.1" stroke-linejoin="round" />
<line x1="459.6" y1="21.3" x2="459.6" y2="197.0" stroke="#555" stroke-width="1.4" stroke-dasharray="5.1 4.9"/>
<line x1="504.0" y1="13.6" x2="504.0" y2="189.5" stroke="#555" stroke-width="1.4" stroke-dasharray="5.1 4.9"/>
<text x="449.0" y="29.1" font-size="11.2" font-weight="bold" text-anchor="start" fill="#000" font-style="italic" fill-opacity="0.85" stroke="#000" stroke-width="0.4">D</text>
<text x="493.3" y="20.3" font-size="11.0" font-weight="bold" text-anchor="start" fill="#000" font-style="italic" fill-opacity="0.85" stroke="#000" stroke-width="0.4">G</text>
<rect x="382.6" y="2.9" width="289.1" height="214.2" fill="none" stroke="#2a2a2a" stroke-width="1.3"/>
<line x1="393.40" y1="217.1" x2="393.40" y2="221.1" stroke="#2a2a2a" stroke-width="1.1" />
<text x="393.40" y="233.5" font-size="12" font-weight="normal" text-anchor="middle" fill="#000" >1000</text>
<line x1="411.95" y1="217.1" x2="411.95" y2="219.4" stroke="#2a2a2a" stroke-width="1.1" />
<line x1="430.50" y1="217.1" x2="430.50" y2="221.1" stroke="#2a2a2a" stroke-width="1.1" />
<text x="430.50" y="233.5" font-size="12" font-weight="normal" text-anchor="middle" fill="#000" >1200</text>
<line x1="449.05" y1="217.1" x2="449.05" y2="219.4" stroke="#2a2a2a" stroke-width="1.1" />
<line x1="467.60" y1="217.1" x2="467.60" y2="221.1" stroke="#2a2a2a" stroke-width="1.1" />
<text x="467.60" y="233.5" font-size="12" font-weight="normal" text-anchor="middle" fill="#000" >1400</text>
<line x1="486.15" y1="217.1" x2="486.15" y2="219.4" stroke="#2a2a2a" stroke-width="1.1" />
<line x1="504.70" y1="217.1" x2="504.70" y2="221.1" stroke="#2a2a2a" stroke-width="1.1" />
<text x="504.70" y="233.5" font-size="12" font-weight="normal" text-anchor="middle" fill="#000" >1600</text>
<line x1="523.25" y1="217.1" x2="523.25" y2="219.4" stroke="#2a2a2a" stroke-width="1.1" />
<line x1="541.80" y1="217.1" x2="541.80" y2="221.1" stroke="#2a2a2a" stroke-width="1.1" />
<text x="541.80" y="233.5" font-size="12" font-weight="normal" text-anchor="middle" fill="#000" >1800</text>
<line x1="560.35" y1="217.1" x2="560.35" y2="219.4" stroke="#2a2a2a" stroke-width="1.1" />
<line x1="578.90" y1="217.1" x2="578.90" y2="221.1" stroke="#2a2a2a" stroke-width="1.1" />
<text x="578.90" y="233.5" font-size="12" font-weight="normal" text-anchor="middle" fill="#000" >2000</text>
<line x1="597.45" y1="217.1" x2="597.45" y2="219.4" stroke="#2a2a2a" stroke-width="1.1" />
<line x1="616.00" y1="217.1" x2="616.00" y2="221.1" stroke="#2a2a2a" stroke-width="1.1" />
<text x="616.00" y="233.5" font-size="12" font-weight="normal" text-anchor="middle" fill="#000" >2200</text>
<line x1="634.55" y1="217.1" x2="634.55" y2="219.4" stroke="#2a2a2a" stroke-width="1.1" />
<line x1="653.10" y1="217.1" x2="653.10" y2="221.1" stroke="#2a2a2a" stroke-width="1.1" />
<text x="653.10" y="233.5" font-size="12" font-weight="normal" text-anchor="middle" fill="#000" >2400</text>
<line x1="671.65" y1="217.1" x2="671.65" y2="219.4" stroke="#2a2a2a" stroke-width="1.1" />
<text x="521.2" y="250.8" font-size="13.75" font-weight="bold" text-anchor="middle" stroke="#000" stroke-width="0.4">Raman Shift (cm<tspan font-size="8.5" dy="-6.8">-1</tspan><tspan dy="6.8">)</tspan></text>
<text transform="translate(375.2,110.3) rotate(-90)" x="0" y="0" font-size="14.5" font-weight="bold" text-anchor="middle" fill="#000"  stroke="#000" stroke-width="0.4">Intensity (a.u.)</text>
<text x="343.8" y="26.2" font-size="28.6" font-weight="normal" text-anchor="start" fill="#000" letter-spacing="1.1" stroke="#000" stroke-width="0.75">(b)</text>
<text x="606.5" y="95.5" font-size="11.3" font-weight="bold" text-anchor="start" fill="#000"  stroke="#000" stroke-width="0.4">LGO</text>
<text x="606.5" y="130.7" font-size="11.3" font-weight="bold" text-anchor="start" fill="#000"  stroke="#000" stroke-width="0.4">SGO</text>
<text x="566.5" y="166.8" font-size="11.35" font-weight="bold" text-anchor="start" fill="#000"  stroke="#000" stroke-width="0.4">SnO<tspan font-size="7.94" dy="2.27">2</tspan><tspan dy="-2.27">@C@half-rGO</tspan></text>
<text x="580.6" y="204.0" font-size="11.6" font-weight="bold" text-anchor="start" fill="#000"  stroke="#000" stroke-width="0.4">SnO<tspan font-size="8.12" dy="2.32">2</tspan><tspan dy="-2.32">@C/rGO</tspan></text>
<path d="M90.30,443.40 95.50,441.00 104.60,440.10 109.00,439.80 113.40,439.50 118.30,439.00 123.50,438.50 128.70,438.00 133.50,437.50 138.50,437.00 150.80,436.20 163.50,435.60 176.40,434.70 188.00,433.70 201.10,432.60 214.00,431.60 226.20,430.50 238.70,429.00 251.10,426.80 264.00,424.50 276.30,421.90 289.20,419.30 295.00,418.20 301.00,417.60 307.50,416.80 313.90,415.90 320.30,415.20 326.50,414.70 332.00,414.20 337.50,413.70" fill="none" stroke="#444444" stroke-width="1.0" stroke-linejoin="round" />
<path d="M90.30,441.75 L91.87,444.39 L88.73,444.39 Z" fill="#fff" stroke="#444444" stroke-width="0.8"/>
<path d="M95.50,439.35 L97.07,441.99 L93.93,441.99 Z" fill="#fff" stroke="#444444" stroke-width="0.8"/>
<path d="M104.60,438.45 L106.17,441.09 L103.03,441.09 Z" fill="#fff" stroke="#444444" stroke-width="0.8"/>
<path d="M109.00,438.15 L110.57,440.79 L107.43,440.79 Z" fill="#fff" stroke="#444444" stroke-width="0.8"/>
<path d="M113.40,437.85 L114.97,440.49 L111.83,440.49 Z" fill="#fff" stroke="#444444" stroke-width="0.8"/>
<path d="M118.30,437.35 L119.87,439.99 L116.73,439.99 Z" fill="#fff" stroke="#444444" stroke-width="0.8"/>
<path d="M123.50,436.85 L125.07,439.49 L121.93,439.49 Z" fill="#fff" stroke="#444444" stroke-width="0.8"/>
<path d="M128.70,436.35 L130.27,438.99 L127.13,438.99 Z" fill="#fff" stroke="#444444" stroke-width="0.8"/>
<path d="M133.50,435.85 L135.07,438.49 L131.93,438.49 Z" fill="#fff" stroke="#444444" stroke-width="0.8"/>
<path d="M138.50,435.35 L140.07,437.99 L136.93,437.99 Z" fill="#fff" stroke="#444444" stroke-width="0.8"/>
<path d="M150.80,434.55 L152.37,437.19 L149.23,437.19 Z" fill="#fff" stroke="#444444" stroke-width="0.8"/>
<path d="M163.50,433.95 L165.07,436.59 L161.93,436.59 Z" fill="#fff" stroke="#444444" stroke-width="0.8"/>
<path d="M176.40,433.05 L177.97,435.69 L174.83,435.69 Z" fill="#fff" stroke="#444444" stroke-width="0.8"/>
<path d="M188.00,432.05 L189.57,434.69 L186.43,434.69 Z" fill="#fff" stroke="#444444" stroke-width="0.8"/>
<path d="M201.10,430.95 L202.67,433.59 L199.53,433.59 Z" fill="#fff" stroke="#444444" stroke-width="0.8"/>
<path d="M214.00,429.95 L215.57,432.59 L212.43,432.59 Z" fill="#fff" stroke="#444444" stroke-width="0.8"/>
<path d="M226.20,428.85 L227.77,431.49 L224.63,431.49 Z" fill="#fff" stroke="#444444" stroke-width="0.8"/>
<path d="M238.70,427.35 L240.27,429.99 L237.13,429.99 Z" fill="#fff" stroke="#444444" stroke-width="0.8"/>
<path d="M251.10,425.15 L252.67,427.79 L249.53,427.79 Z" fill="#fff" stroke="#444444" stroke-width="0.8"/>
<path d="M264.00,422.85 L265.57,425.49 L262.43,425.49 Z" fill="#fff" stroke="#444444" stroke-width="0.8"/>
<path d="M276.30,420.25 L277.87,422.89 L274.73,422.89 Z" fill="#fff" stroke="#444444" stroke-width="0.8"/>
<path d="M289.20,417.65 L290.77,420.29 L287.63,420.29 Z" fill="#fff" stroke="#444444" stroke-width="0.8"/>
<path d="M295.00,416.55 L296.57,419.19 L293.43,419.19 Z" fill="#fff" stroke="#444444" stroke-width="0.8"/>
<path d="M301.00,415.95 L302.57,418.59 L299.43,418.59 Z" fill="#fff" stroke="#444444" stroke-width="0.8"/>
<path d="M307.50,415.15 L309.07,417.79 L305.93,417.79 Z" fill="#fff" stroke="#444444" stroke-width="0.8"/>
<path d="M313.90,414.25 L315.47,416.89 L312.33,416.89 Z" fill="#fff" stroke="#444444" stroke-width="0.8"/>
<path d="M320.30,413.55 L321.87,416.19 L318.73,416.19 Z" fill="#fff" stroke="#444444" stroke-width="0.8"/>
<path d="M326.50,413.05 L328.07,415.69 L324.93,415.69 Z" fill="#fff" stroke="#444444" stroke-width="0.8"/>
<path d="M332.00,412.55 L333.57,415.19 L330.43,415.19 Z" fill="#fff" stroke="#444444" stroke-width="0.8"/>
<path d="M337.50,412.05 L339.07,414.69 L335.93,414.69 Z" fill="#fff" stroke="#444444" stroke-width="0.8"/>
<path d="M337.50,413.70 330.00,414.00 320.30,414.40 313.90,414.80 307.40,415.00 301.00,415.00 294.50,415.00 289.20,415.40 276.30,417.00 264.00,418.70 251.10,421.20 238.70,423.00 226.20,424.70 214.00,425.50 201.10,430.50 188.00,433.70" fill="none" stroke="#444444" stroke-width="1.0" stroke-linejoin="round" />
<path d="M337.50,412.05 L339.07,414.69 L335.93,414.69 Z" fill="#fff" stroke="#444444" stroke-width="0.8"/>
<path d="M330.00,412.35 L331.57,414.99 L328.43,414.99 Z" fill="#fff" stroke="#444444" stroke-width="0.8"/>
<path d="M320.30,412.75 L321.87,415.39 L318.73,415.39 Z" fill="#fff" stroke="#444444" stroke-width="0.8"/>
<path d="M313.90,413.15 L315.47,415.79 L312.33,415.79 Z" fill="#fff" stroke="#444444" stroke-width="0.8"/>
<path d="M307.40,413.35 L308.97,415.99 L305.83,415.99 Z" fill="#fff" stroke="#444444" stroke-width="0.8"/>
<path d="M301.00,413.35 L302.57,415.99 L299.43,415.99 Z" fill="#fff" stroke="#444444" stroke-width="0.8"/>
<path d="M294.50,413.35 L296.07,415.99 L292.93,415.99 Z" fill="#fff" stroke="#444444" stroke-width="0.8"/>
<path d="M289.20,413.75 L290.77,416.39 L287.63,416.39 Z" fill="#fff" stroke="#444444" stroke-width="0.8"/>
<path d="M276.30,415.35 L277.87,417.99 L274.73,417.99 Z" fill="#fff" stroke="#444444" stroke-width="0.8"/>
<path d="M264.00,417.05 L265.57,419.69 L262.43,419.69 Z" fill="#fff" stroke="#444444" stroke-width="0.8"/>
<path d="M251.10,419.55 L252.67,422.19 L249.53,422.19 Z" fill="#fff" stroke="#444444" stroke-width="0.8"/>
<path d="M238.70,421.35 L240.27,423.99 L237.13,423.99 Z" fill="#fff" stroke="#444444" stroke-width="0.8"/>
<path d="M226.20,423.05 L227.77,425.69 L224.63,425.69 Z" fill="#fff" stroke="#444444" stroke-width="0.8"/>
<path d="M214.00,423.85 L215.57,426.49 L212.43,426.49 Z" fill="#fff" stroke="#444444" stroke-width="0.8"/>
<path d="M201.10,428.85 L202.67,431.49 L199.53,431.49 Z" fill="#fff" stroke="#444444" stroke-width="0.8"/>
<path d="M188.00,432.05 L189.57,434.69 L186.43,434.69 Z" fill="#fff" stroke="#444444" stroke-width="0.8"/>
<path d="M90.30,440.80 95.50,438.20 104.60,436.20 108.40,435.60 113.40,434.70 118.30,434.10 123.50,433.30 128.70,432.80 133.50,432.40 138.50,431.80 150.80,430.20 163.50,428.50 172.00,427.60 176.40,427.00 188.00,424.70 200.50,422.20 214.00,420.40 226.20,418.00 238.70,414.40 251.10,411.10 264.00,406.40 276.30,401.10 289.20,395.00 294.50,392.50 302.00,388.20 308.50,384.20 314.90,380.70 320.50,377.60 327.30,374.00 333.20,370.10 336.00,368.30 338.10,366.90" fill="none" stroke="#2b7bd8" stroke-width="1.0" stroke-linejoin="round" />
<circle cx="90.30" cy="440.80" r="1.65" fill="#fff" stroke="#2b7bd8" stroke-width="0.8"/>
<circle cx="95.50" cy="438.20" r="1.65" fill="#fff" stroke="#2b7bd8" stroke-width="0.8"/>
<circle cx="104.60" cy="436.20" r="1.65" fill="#fff" stroke="#2b7bd8" stroke-width="0.8"/>
<circle cx="108.40" cy="435.60" r="1.65" fill="#fff" stroke="#2b7bd8" stroke-width="0.8"/>
<circle cx="113.40" cy="434.70" r="1.65" fill="#fff" stroke="#2b7bd8" stroke-width="0.8"/>
<circle cx="118.30" cy="434.10" r="1.65" fill="#fff" stroke="#2b7bd8" stroke-width="0.8"/>
<circle cx="123.50" cy="433.30" r="1.65" fill="#fff" stroke="#2b7bd8" stroke-width="0.8"/>
<circle cx="128.70" cy="432.80" r="1.65" fill="#fff" stroke="#2b7bd8" stroke-width="0.8"/>
<circle cx="133.50" cy="432.40" r="1.65" fill="#fff" stroke="#2b7bd8" stroke-width="0.8"/>
<circle cx="138.50" cy="431.80" r="1.65" fill="#fff" stroke="#2b7bd8" stroke-width="0.8"/>
<circle cx="150.80" cy="430.20" r="1.65" fill="#fff" stroke="#2b7bd8" stroke-width="0.8"/>
<circle cx="163.50" cy="428.50" r="1.65" fill="#fff" stroke="#2b7bd8" stroke-width="0.8"/>
<circle cx="172.00" cy="427.60" r="1.65" fill="#fff" stroke="#2b7bd8" stroke-width="0.8"/>
<circle cx="176.40" cy="427.00" r="1.65" fill="#fff" stroke="#2b7bd8" stroke-width="0.8"/>
<circle cx="188.00" cy="424.70" r="1.65" fill="#fff" stroke="#2b7bd8" stroke-width="0.8"/>
<circle cx="200.50" cy="422.20" r="1.65" fill="#fff" stroke="#2b7bd8" stroke-width="0.8"/>
<circle cx="214.00" cy="420.40" r="1.65" fill="#fff" stroke="#2b7bd8" stroke-width="0.8"/>
<circle cx="226.20" cy="418.00" r="1.65" fill="#fff" stroke="#2b7bd8" stroke-width="0.8"/>
<circle cx="238.70" cy="414.40" r="1.65" fill="#fff" stroke="#2b7bd8" stroke-width="0.8"/>
<circle cx="251.10" cy="411.10" r="1.65" fill="#fff" stroke="#2b7bd8" stroke-width="0.8"/>
<circle cx="264.00" cy="406.40" r="1.65" fill="#fff" stroke="#2b7bd8" stroke-width="0.8"/>
<circle cx="276.30" cy="401.10" r="1.65" fill="#fff" stroke="#2b7bd8" stroke-width="0.8"/>
<circle cx="289.20" cy="395.00" r="1.65" fill="#fff" stroke="#2b7bd8" stroke-width="0.8"/>
<circle cx="294.50" cy="392.50" r="1.65" fill="#fff" stroke="#2b7bd8" stroke-width="0.8"/>
<circle cx="302.00" cy="388.20" r="1.65" fill="#fff" stroke="#2b7bd8" stroke-width="0.8"/>
<circle cx="308.50" cy="384.20" r="1.65" fill="#fff" stroke="#2b7bd8" stroke-width="0.8"/>
<circle cx="314.90" cy="380.70" r="1.65" fill="#fff" stroke="#2b7bd8" stroke-width="0.8"/>
<circle cx="320.50" cy="377.60" r="1.65" fill="#fff" stroke="#2b7bd8" stroke-width="0.8"/>
<circle cx="327.30" cy="374.00" r="1.65" fill="#fff" stroke="#2b7bd8" stroke-width="0.8"/>
<circle cx="333.20" cy="370.10" r="1.65" fill="#fff" stroke="#2b7bd8" stroke-width="0.8"/>
<circle cx="336.00" cy="368.30" r="1.65" fill="#fff" stroke="#2b7bd8" stroke-width="0.8"/>
<circle cx="338.10" cy="366.90" r="1.65" fill="#fff" stroke="#2b7bd8" stroke-width="0.8"/>
<path d="M338.10,366.90 332.50,368.70 322.60,370.80 316.30,371.90 308.50,372.90 301.50,373.60 295.50,374.30 289.10,375.00 276.90,377.10 264.40,381.70 251.60,388.60 238.20,395.00 226.20,400.40 214.00,405.30 201.10,421.50 188.00,424.70" fill="none" stroke="#2b7bd8" stroke-width="1.0" stroke-linejoin="round" />
<circle cx="338.10" cy="366.90" r="1.65" fill="#fff" stroke="#2b7bd8" stroke-width="0.8"/>
<circle cx="332.50" cy="368.70" r="1.65" fill="#fff" stroke="#2b7bd8" stroke-width="0.8"/>
<circle cx="322.60" cy="370.80" r="1.65" fill="#fff" stroke="#2b7bd8" stroke-width="0.8"/>
<circle cx="316.30" cy="371.90" r="1.65" fill="#fff" stroke="#2b7bd8" stroke-width="0.8"/>
<circle cx="308.50" cy="372.90" r="1.65" fill="#fff" stroke="#2b7bd8" stroke-width="0.8"/>
<circle cx="301.50" cy="373.60" r="1.65" fill="#fff" stroke="#2b7bd8" stroke-width="0.8"/>
<circle cx="295.50" cy="374.30" r="1.65" fill="#fff" stroke="#2b7bd8" stroke-width="0.8"/>
<circle cx="289.10" cy="375.00" r="1.65" fill="#fff" stroke="#2b7bd8" stroke-width="0.8"/>
<circle cx="276.90" cy="377.10" r="1.65" fill="#fff" stroke="#2b7bd8" stroke-width="0.8"/>
<circle cx="264.40" cy="381.70" r="1.65" fill="#fff" stroke="#2b7bd8" stroke-width="0.8"/>
<circle cx="251.60" cy="388.60" r="1.65" fill="#fff" stroke="#2b7bd8" stroke-width="0.8"/>
<circle cx="238.20" cy="395.00" r="1.65" fill="#fff" stroke="#2b7bd8" stroke-width="0.8"/>
<circle cx="226.20" cy="400.40" r="1.65" fill="#fff" stroke="#2b7bd8" stroke-width="0.8"/>
<circle cx="214.00" cy="405.30" r="1.65" fill="#fff" stroke="#2b7bd8" stroke-width="0.8"/>
<circle cx="201.10" cy="421.50" r="1.65" fill="#fff" stroke="#2b7bd8" stroke-width="0.8"/>
<circle cx="188.00" cy="424.70" r="1.65" fill="#fff" stroke="#2b7bd8" stroke-width="0.8"/>
<path d="M90.30,437.40 95.50,433.60 103.80,428.60 108.00,426.60 112.90,424.30 118.10,422.00 123.10,420.00 128.30,418.20 133.10,416.00 138.30,413.70 150.40,408.50 159.70,404.70 163.50,402.70 172.00,398.90 176.40,397.00 188.00,391.60 201.10,385.40 213.20,378.80 225.90,371.90 238.40,365.30 250.60,356.60 263.50,347.50 276.20,338.10 288.90,328.00 293.70,324.00 301.30,317.30 307.40,311.90 313.80,306.30 319.80,300.60 326.50,294.60 331.50,289.20 333.50,285.20 336.00,282.10 337.60,277.70" fill="none" stroke="#e2392f" stroke-width="1.0" stroke-linejoin="round" />
<circle cx="90.30" cy="437.40" r="1.65" fill="#fff" stroke="#e2392f" stroke-width="0.8"/>
<circle cx="95.50" cy="433.60" r="1.65" fill="#fff" stroke="#e2392f" stroke-width="0.8"/>
<circle cx="103.80" cy="428.60" r="1.65" fill="#fff" stroke="#e2392f" stroke-width="0.8"/>
<circle cx="108.00" cy="426.60" r="1.65" fill="#fff" stroke="#e2392f" stroke-width="0.8"/>
<circle cx="112.90" cy="424.30" r="1.65" fill="#fff" stroke="#e2392f" stroke-width="0.8"/>
<circle cx="118.10" cy="422.00" r="1.65" fill="#fff" stroke="#e2392f" stroke-width="0.8"/>
<circle cx="123.10" cy="420.00" r="1.65" fill="#fff" stroke="#e2392f" stroke-width="0.8"/>
<circle cx="128.30" cy="418.20" r="1.65" fill="#fff" stroke="#e2392f" stroke-width="0.8"/>
<circle cx="133.10" cy="416.00" r="1.65" fill="#fff" stroke="#e2392f" stroke-width="0.8"/>
<circle cx="138.30" cy="413.70" r="1.65" fill="#fff" stroke="#e2392f" stroke-width="0.8"/>
<circle cx="150.40" cy="408.50" r="1.65" fill="#fff" stroke="#e2392f" stroke-width="0.8"/>
<circle cx="159.70" cy="404.70" r="1.65" fill="#fff" stroke="#e2392f" stroke-width="0.8"/>
<circle cx="163.50" cy="402.70" r="1.65" fill="#fff" stroke="#e2392f" stroke-width="0.8"/>
<circle cx="172.00" cy="398.90" r="1.65" fill="#fff" stroke="#e2392f" stroke-width="0.8"/>
<circle cx="176.40" cy="397.00" r="1.65" fill="#fff" stroke="#e2392f" stroke-width="0.8"/>
<circle cx="188.00" cy="391.60" r="1.65" fill="#fff" stroke="#e2392f" stroke-width="0.8"/>
<circle cx="201.10" cy="385.40" r="1.65" fill="#fff" stroke="#e2392f" stroke-width="0.8"/>
<circle cx="213.20" cy="378.80" r="1.65" fill="#fff" stroke="#e2392f" stroke-width="0.8"/>
<circle cx="225.90" cy="371.90" r="1.65" fill="#fff" stroke="#e2392f" stroke-width="0.8"/>
<circle cx="238.40" cy="365.30" r="1.65" fill="#fff" stroke="#e2392f" stroke-width="0.8"/>
<circle cx="250.60" cy="356.60" r="1.65" fill="#fff" stroke="#e2392f" stroke-width="0.8"/>
<circle cx="263.50" cy="347.50" r="1.65" fill="#fff" stroke="#e2392f" stroke-width="0.8"/>
<circle cx="276.20" cy="338.10" r="1.65" fill="#fff" stroke="#e2392f" stroke-width="0.8"/>
<circle cx="288.90" cy="328.00" r="1.65" fill="#fff" stroke="#e2392f" stroke-width="0.8"/>
<circle cx="293.70" cy="324.00" r="1.65" fill="#fff" stroke="#e2392f" stroke-width="0.8"/>
<circle cx="301.30" cy="317.30" r="1.65" fill="#fff" stroke="#e2392f" stroke-width="0.8"/>
<circle cx="307.40" cy="311.90" r="1.65" fill="#fff" stroke="#e2392f" stroke-width="0.8"/>
<circle cx="313.80" cy="306.30" r="1.65" fill="#fff" stroke="#e2392f" stroke-width="0.8"/>
<circle cx="319.80" cy="300.60" r="1.65" fill="#fff" stroke="#e2392f" stroke-width="0.8"/>
<circle cx="326.50" cy="294.60" r="1.65" fill="#fff" stroke="#e2392f" stroke-width="0.8"/>
<circle cx="331.50" cy="289.20" r="1.65" fill="#fff" stroke="#e2392f" stroke-width="0.8"/>
<circle cx="333.50" cy="285.20" r="1.65" fill="#fff" stroke="#e2392f" stroke-width="0.8"/>
<circle cx="336.00" cy="282.10" r="1.65" fill="#fff" stroke="#e2392f" stroke-width="0.8"/>
<circle cx="337.60" cy="277.70" r="1.65" fill="#fff" stroke="#e2392f" stroke-width="0.8"/>
<path d="M337.60,277.70 334.50,281.10 332.50,283.10 329.50,285.80 323.50,291.20 316.40,295.20 310.40,298.20 303.30,301.20 301.70,302.30 294.90,305.30 288.90,307.90 276.20,313.30 263.70,318.40 251.00,324.00 239.80,333.70 226.30,346.60 212.60,359.80 202.50,382.80 188.00,391.60" fill="none" stroke="#e2392f" stroke-width="1.0" stroke-linejoin="round" />
<circle cx="337.60" cy="277.70" r="1.65" fill="#fff" stroke="#e2392f" stroke-width="0.8"/>
<circle cx="334.50" cy="281.10" r="1.65" fill="#fff" stroke="#e2392f" stroke-width="0.8"/>
<circle cx="332.50" cy="283.10" r="1.65" fill="#fff" stroke="#e2392f" stroke-width="0.8"/>
<circle cx="329.50" cy="285.80" r="1.65" fill="#fff" stroke="#e2392f" stroke-width="0.8"/>
<circle cx="323.50" cy="291.20" r="1.65" fill="#fff" stroke="#e2392f" stroke-width="0.8"/>
<circle cx="316.40" cy="295.20" r="1.65" fill="#fff" stroke="#e2392f" stroke-width="0.8"/>
<circle cx="310.40" cy="298.20" r="1.65" fill="#fff" stroke="#e2392f" stroke-width="0.8"/>
<circle cx="303.30" cy="301.20" r="1.65" fill="#fff" stroke="#e2392f" stroke-width="0.8"/>
<circle cx="301.70" cy="302.30" r="1.65" fill="#fff" stroke="#e2392f" stroke-width="0.8"/>
<circle cx="294.90" cy="305.30" r="1.65" fill="#fff" stroke="#e2392f" stroke-width="0.8"/>
<circle cx="288.90" cy="307.90" r="1.65" fill="#fff" stroke="#e2392f" stroke-width="0.8"/>
<circle cx="276.20" cy="313.30" r="1.65" fill="#fff" stroke="#e2392f" stroke-width="0.8"/>
<circle cx="263.70" cy="318.40" r="1.65" fill="#fff" stroke="#e2392f" stroke-width="0.8"/>
<circle cx="251.00" cy="324.00" r="1.65" fill="#fff" stroke="#e2392f" stroke-width="0.8"/>
<circle cx="239.80" cy="333.70" r="1.65" fill="#fff" stroke="#e2392f" stroke-width="0.8"/>
<circle cx="226.30" cy="346.60" r="1.65" fill="#fff" stroke="#e2392f" stroke-width="0.8"/>
<circle cx="212.60" cy="359.80" r="1.65" fill="#fff" stroke="#e2392f" stroke-width="0.8"/>
<circle cx="202.50" cy="382.80" r="1.65" fill="#fff" stroke="#e2392f" stroke-width="0.8"/>
<circle cx="188.00" cy="391.60" r="1.65" fill="#fff" stroke="#e2392f" stroke-width="0.8"/>
<rect x="83.1" y="262.2" width="260.79999999999995" height="194.5" fill="none" stroke="#2a2a2a" stroke-width="1.3"/>
<line x1="83.1" y1="452.30" x2="79.1" y2="452.30" stroke="#2a2a2a" stroke-width="1.1" />
<text x="76.8" y="455.80" font-size="11.7" font-weight="normal" text-anchor="end" fill="#000" >0</text>
<line x1="83.1" y1="431.19" x2="80.8" y2="431.19" stroke="#2a2a2a" stroke-width="1.1" />
<line x1="83.1" y1="410.08" x2="79.1" y2="410.08" stroke="#2a2a2a" stroke-width="1.1" />
<text x="76.8" y="413.58" font-size="11.7" font-weight="normal" text-anchor="end" fill="#000" >100</text>
<line x1="83.1" y1="388.97" x2="80.8" y2="388.97" stroke="#2a2a2a" stroke-width="1.1" />
<line x1="83.1" y1="367.86" x2="79.1" y2="367.86" stroke="#2a2a2a" stroke-width="1.1" />
<text x="76.8" y="371.36" font-size="11.7" font-weight="normal" text-anchor="end" fill="#000" >200</text>
<line x1="83.1" y1="346.75" x2="80.8" y2="346.75" stroke="#2a2a2a" stroke-width="1.1" />
<line x1="83.1" y1="325.64" x2="79.1" y2="325.64" stroke="#2a2a2a" stroke-width="1.1" />
<text x="76.8" y="329.14" font-size="11.7" font-weight="normal" text-anchor="end" fill="#000" >300</text>
<line x1="83.1" y1="304.53" x2="80.8" y2="304.53" stroke="#2a2a2a" stroke-width="1.1" />
<line x1="83.1" y1="283.42" x2="79.1" y2="283.42" stroke="#2a2a2a" stroke-width="1.1" />
<text x="76.8" y="286.92" font-size="11.7" font-weight="normal" text-anchor="end" fill="#000" >400</text>
<line x1="88.05" y1="456.7" x2="88.05" y2="460.7" stroke="#2a2a2a" stroke-width="1.1" />
<text x="88.05" y="472.0" font-size="11.7" font-weight="normal" text-anchor="middle" fill="#000" >0.0</text>
<line x1="113.16" y1="456.7" x2="113.16" y2="459.0" stroke="#2a2a2a" stroke-width="1.1" />
<line x1="138.28" y1="456.7" x2="138.28" y2="460.7" stroke="#2a2a2a" stroke-width="1.1" />
<text x="138.28" y="472.0" font-size="11.7" font-weight="normal" text-anchor="middle" fill="#000" >0.2</text>
<line x1="163.39" y1="456.7" x2="163.39" y2="459.0" stroke="#2a2a2a" stroke-width="1.1" />
<line x1="188.51" y1="456.7" x2="188.51" y2="460.7" stroke="#2a2a2a" stroke-width="1.1" />
<text x="188.51" y="472.0" font-size="11.7" font-weight="normal" text-anchor="middle" fill="#000" >0.4</text>
<line x1="213.62" y1="456.7" x2="213.62" y2="459.0" stroke="#2a2a2a" stroke-width="1.1" />
<line x1="238.74" y1="456.7" x2="238.74" y2="460.7" stroke="#2a2a2a" stroke-width="1.1" />
<text x="238.74" y="472.0" font-size="11.7" font-weight="normal" text-anchor="middle" fill="#000" >0.6</text>
<line x1="263.86" y1="456.7" x2="263.86" y2="459.0" stroke="#2a2a2a" stroke-width="1.1" />
<line x1="288.97" y1="456.7" x2="288.97" y2="460.7" stroke="#2a2a2a" stroke-width="1.1" />
<text x="288.97" y="472.0" font-size="11.7" font-weight="normal" text-anchor="middle" fill="#000" >0.8</text>
<line x1="314.08" y1="456.7" x2="314.08" y2="459.0" stroke="#2a2a2a" stroke-width="1.1" />
<line x1="339.20" y1="456.7" x2="339.20" y2="460.7" stroke="#2a2a2a" stroke-width="1.1" />
<text x="339.20" y="472.0" font-size="11.7" font-weight="normal" text-anchor="middle" fill="#000" >1.0</text>
<text x="213.7" y="489.2" font-size="13.1" font-weight="bold" text-anchor="middle" stroke="#000" stroke-width="0.4">Relative Pressure (<tspan font-style="italic">P</tspan>/<tspan font-style="italic">P</tspan><tspan font-size="8" dy="3">0</tspan><tspan dy="-3">)</tspan></text>
<text transform="translate(48.0,369.6) rotate(-90)" font-size="13.5" font-weight="bold" text-anchor="middle" stroke="#000" stroke-width="0.4">Quantity Adsorbed (cm<tspan font-size="8" dy="-6">3</tspan><tspan dy="6"> g</tspan><tspan font-size="8" dy="-6">-1</tspan><tspan dy="6"> STP)</tspan></text>
<text x="1.5" y="281.0" font-size="27.5" font-weight="bold" text-anchor="start" fill="#000" stroke="none">(c)</text>
<line x1="97.2" y1="283.9" x2="117.9" y2="283.9" stroke="#e58a84" stroke-width="1.5" />
<circle cx="107.5" cy="283.9" r="1.6" fill="#fff" stroke="#e2392f" stroke-width="0.8"/>
<text x="120.0" y="287.5" font-size="11.8" font-weight="bold" text-anchor="start" fill="#000" textLength="106.1" lengthAdjust="spacingAndGlyphs" stroke="#000" stroke-width="0.4">SnO<tspan font-size="8.26" dy="2.36">2</tspan><tspan dy="-2.36">@C@half-rGO</tspan></text>
<line x1="97.2" y1="298.0" x2="117.9" y2="298.0" stroke="#3f85d8" stroke-width="1.1" />
<circle cx="107.5" cy="298.0" r="1.6" fill="#fff" stroke="#2b7bd8" stroke-width="0.8"/>
<text x="120.0" y="301.6" font-size="11.8" font-weight="bold" text-anchor="start" fill="#000" textLength="74.2" lengthAdjust="spacingAndGlyphs" stroke="#000" stroke-width="0.4">SnO<tspan font-size="8.26" dy="2.36">2</tspan><tspan dy="-2.36">@C/rGO</tspan></text>
<line x1="97.2" y1="312.09999999999997" x2="117.9" y2="312.09999999999997" stroke="#333" stroke-width="0.9" />
<path d="M107.5,310.29999999999995 L109.2,313.2 L105.8,313.2 Z" fill="#fff" stroke="#444444" stroke-width="0.8"/>
<text x="120.0" y="315.7" font-size="11.8" font-weight="bold" text-anchor="start" fill="#000" textLength="40.7" lengthAdjust="spacingAndGlyphs" stroke="#000" stroke-width="0.4">SnO<tspan font-size="8.26" dy="2.36">2</tspan><tspan dy="-2.36">/C</tspan></text>
<text x="224.0" y="301.3" font-size="11.4" font-weight="bold" fill="#e2392f" stroke="#e2392f" stroke-width="0.4">375 m<tspan font-size="7.5" dy="-4">2</tspan><tspan dy="4"> g</tspan><tspan font-size="7.5" dy="-4">-1</tspan></text>
<text x="283.2" y="354.6" font-size="11.4" font-weight="bold" fill="#2b7bd8" stroke="#2b7bd8" stroke-width="0.4">177 m<tspan font-size="7.5" dy="-4">2</tspan><tspan dy="4"> g</tspan><tspan font-size="7.5" dy="-4">-1</tspan></text>
<text x="289.2" y="408.4" font-size="11.4" font-weight="bold" fill="#444444" stroke="#444444" stroke-width="0.4">124 m<tspan font-size="7.5" dy="-4">2</tspan><tspan dy="4"> g</tspan><tspan font-size="7.5" dy="-4">-1</tspan></text>
<line x1="248.9" y1="307.7" x2="253.7" y2="319.7" stroke="#e2392f" stroke-width="1.0" />
<line x1="298.3" y1="361.2" x2="300.8" y2="368.7" stroke="#2b7bd8" stroke-width="1.0" />
<path d="M439.40,449.90 441.80,449.90 444.80,449.90 448.40,443.30 453.30,441.30 458.20,440.10 462.40,438.40 466.80,435.20 472.90,431.10 479.00,425.50 486.30,418.90 494.90,408.30 502.20,406.60 512.00,410.00 519.40,438.90 525.50,432.80 532.80,441.80 541.40,446.70 552.40,448.70 567.00,450.60 585.50,451.20 612.80,454.10 626.50,453.00 658.60,454.10" fill="none" stroke="#555555" stroke-width="1.2" stroke-linejoin="round" />
<circle cx="439.40" cy="449.90" r="1.3" fill="#fff" stroke="#555555" stroke-width="0.6" stroke-opacity="0.7"/>
<circle cx="441.80" cy="449.90" r="1.3" fill="#fff" stroke="#555555" stroke-width="0.6" stroke-opacity="0.7"/>
<circle cx="444.80" cy="449.90" r="1.3" fill="#fff" stroke="#555555" stroke-width="0.6" stroke-opacity="0.7"/>
<circle cx="448.40" cy="443.30" r="1.3" fill="#fff" stroke="#555555" stroke-width="0.6" stroke-opacity="0.7"/>
<circle cx="453.30" cy="441.30" r="1.3" fill="#fff" stroke="#555555" stroke-width="0.6" stroke-opacity="0.7"/>
<circle cx="458.20" cy="440.10" r="1.3" fill="#fff" stroke="#555555" stroke-width="0.6" stroke-opacity="0.7"/>
<circle cx="462.40" cy="438.40" r="1.3" fill="#fff" stroke="#555555" stroke-width="0.6" stroke-opacity="0.7"/>
<circle cx="466.80" cy="435.20" r="1.3" fill="#fff" stroke="#555555" stroke-width="0.6" stroke-opacity="0.7"/>
<circle cx="472.90" cy="431.10" r="1.3" fill="#fff" stroke="#555555" stroke-width="0.6" stroke-opacity="0.7"/>
<circle cx="479.00" cy="425.50" r="1.3" fill="#fff" stroke="#555555" stroke-width="0.6" stroke-opacity="0.7"/>
<circle cx="486.30" cy="418.90" r="1.3" fill="#fff" stroke="#555555" stroke-width="0.6" stroke-opacity="0.7"/>
<circle cx="494.90" cy="408.30" r="1.3" fill="#fff" stroke="#555555" stroke-width="0.6" stroke-opacity="0.7"/>
<circle cx="502.20" cy="406.60" r="1.3" fill="#fff" stroke="#555555" stroke-width="0.6" stroke-opacity="0.7"/>
<circle cx="512.00" cy="410.00" r="1.3" fill="#fff" stroke="#555555" stroke-width="0.6" stroke-opacity="0.7"/>
<circle cx="519.40" cy="438.90" r="1.3" fill="#fff" stroke="#555555" stroke-width="0.6" stroke-opacity="0.7"/>
<circle cx="525.50" cy="432.80" r="1.3" fill="#fff" stroke="#555555" stroke-width="0.6" stroke-opacity="0.7"/>
<circle cx="532.80" cy="441.80" r="1.3" fill="#fff" stroke="#555555" stroke-width="0.6" stroke-opacity="0.7"/>
<circle cx="541.40" cy="446.70" r="1.3" fill="#fff" stroke="#555555" stroke-width="0.6" stroke-opacity="0.7"/>
<circle cx="552.40" cy="448.70" r="1.3" fill="#fff" stroke="#555555" stroke-width="0.6" stroke-opacity="0.7"/>
<circle cx="567.00" cy="450.60" r="1.3" fill="#fff" stroke="#555555" stroke-width="0.6" stroke-opacity="0.7"/>
<circle cx="585.50" cy="451.20" r="1.3" fill="#fff" stroke="#555555" stroke-width="0.6" stroke-opacity="0.7"/>
<circle cx="612.80" cy="454.10" r="1.3" fill="#fff" stroke="#555555" stroke-width="0.6" stroke-opacity="0.7"/>
<circle cx="626.50" cy="453.00" r="1.3" fill="#fff" stroke="#555555" stroke-width="0.6" stroke-opacity="0.7"/>
<circle cx="658.60" cy="454.10" r="1.3" fill="#fff" stroke="#555555" stroke-width="0.6" stroke-opacity="0.7"/>
<path d="M438.70,449.90 441.80,449.90 444.80,449.90 447.20,435.20 451.60,430.30 456.50,427.40 460.70,424.20 466.30,419.30 471.20,413.20 476.60,405.90 481.50,394.90 487.20,384.20 494.00,368.80 502.00,356.50 510.50,344.40 519.10,406.90 525.20,385.40 532.80,396.90 541.20,400.10 552.70,403.50 566.80,407.50 586.60,406.90 613.90,440.30 628.70,425.70 664.80,441.50" fill="none" stroke="#4a8fdc" stroke-width="1.2" stroke-linejoin="round" />
<circle cx="438.70" cy="449.90" r="1.3" fill="#fff" stroke="#4a8fdc" stroke-width="0.6" stroke-opacity="0.7"/>
<circle cx="441.80" cy="449.90" r="1.3" fill="#fff" stroke="#4a8fdc" stroke-width="0.6" stroke-opacity="0.7"/>
<circle cx="444.80" cy="449.90" r="1.3" fill="#fff" stroke="#4a8fdc" stroke-width="0.6" stroke-opacity="0.7"/>
<circle cx="447.20" cy="435.20" r="1.3" fill="#fff" stroke="#4a8fdc" stroke-width="0.6" stroke-opacity="0.7"/>
<circle cx="451.60" cy="430.30" r="1.3" fill="#fff" stroke="#4a8fdc" stroke-width="0.6" stroke-opacity="0.7"/>
<circle cx="456.50" cy="427.40" r="1.3" fill="#fff" stroke="#4a8fdc" stroke-width="0.6" stroke-opacity="0.7"/>
<circle cx="460.70" cy="424.20" r="1.3" fill="#fff" stroke="#4a8fdc" stroke-width="0.6" stroke-opacity="0.7"/>
<circle cx="466.30" cy="419.30" r="1.3" fill="#fff" stroke="#4a8fdc" stroke-width="0.6" stroke-opacity="0.7"/>
<circle cx="471.20" cy="413.20" r="1.3" fill="#fff" stroke="#4a8fdc" stroke-width="0.6" stroke-opacity="0.7"/>
<circle cx="476.60" cy="405.90" r="1.3" fill="#fff" stroke="#4a8fdc" stroke-width="0.6" stroke-opacity="0.7"/>
<circle cx="481.50" cy="394.90" r="1.3" fill="#fff" stroke="#4a8fdc" stroke-width="0.6" stroke-opacity="0.7"/>
<circle cx="487.20" cy="384.20" r="1.3" fill="#fff" stroke="#4a8fdc" stroke-width="0.6" stroke-opacity="0.7"/>
<circle cx="494.00" cy="368.80" r="1.3" fill="#fff" stroke="#4a8fdc" stroke-width="0.6" stroke-opacity="0.7"/>
<circle cx="502.00" cy="356.50" r="1.3" fill="#fff" stroke="#4a8fdc" stroke-width="0.6" stroke-opacity="0.7"/>
<circle cx="510.50" cy="344.40" r="1.3" fill="#fff" stroke="#4a8fdc" stroke-width="0.6" stroke-opacity="0.7"/>
<circle cx="519.10" cy="406.90" r="1.3" fill="#fff" stroke="#4a8fdc" stroke-width="0.6" stroke-opacity="0.7"/>
<circle cx="525.20" cy="385.40" r="1.3" fill="#fff" stroke="#4a8fdc" stroke-width="0.6" stroke-opacity="0.7"/>
<circle cx="532.80" cy="396.90" r="1.3" fill="#fff" stroke="#4a8fdc" stroke-width="0.6" stroke-opacity="0.7"/>
<circle cx="541.20" cy="400.10" r="1.3" fill="#fff" stroke="#4a8fdc" stroke-width="0.6" stroke-opacity="0.7"/>
<circle cx="552.70" cy="403.50" r="1.3" fill="#fff" stroke="#4a8fdc" stroke-width="0.6" stroke-opacity="0.7"/>
<circle cx="566.80" cy="407.50" r="1.3" fill="#fff" stroke="#4a8fdc" stroke-width="0.6" stroke-opacity="0.7"/>
<circle cx="586.60" cy="406.90" r="1.3" fill="#fff" stroke="#4a8fdc" stroke-width="0.6" stroke-opacity="0.7"/>
<circle cx="613.90" cy="440.30" r="1.3" fill="#fff" stroke="#4a8fdc" stroke-width="0.6" stroke-opacity="0.7"/>
<circle cx="628.70" cy="425.70" r="1.3" fill="#fff" stroke="#4a8fdc" stroke-width="0.6" stroke-opacity="0.7"/>
<circle cx="664.80" cy="441.50" r="1.3" fill="#fff" stroke="#4a8fdc" stroke-width="0.6" stroke-opacity="0.7"/>
<path d="M435.60,426.70 439.40,378.20 444.50,365.00 450.50,361.50 456.20,358.10 461.20,350.50 466.60,344.80 472.30,337.40 478.30,328.40 484.30,315.90 491.40,300.20 499.40,287.70 509.10,282.10 517.70,386.00 523.70,355.80 531.60,371.90 540.60,371.30 551.30,371.30 566.00,374.30 585.50,368.70 610.30,421.30 625.80,388.10 655.30,405.80" fill="none" stroke="#d6454a" stroke-width="1.2" stroke-linejoin="round" />
<circle cx="435.60" cy="426.70" r="1.3" fill="#fff" stroke="#d6454a" stroke-width="0.6" stroke-opacity="0.7"/>
<circle cx="439.40" cy="378.20" r="1.3" fill="#fff" stroke="#d6454a" stroke-width="0.6" stroke-opacity="0.7"/>
<circle cx="444.50" cy="365.00" r="1.3" fill="#fff" stroke="#d6454a" stroke-width="0.6" stroke-opacity="0.7"/>
<circle cx="450.50" cy="361.50" r="1.3" fill="#fff" stroke="#d6454a" stroke-width="0.6" stroke-opacity="0.7"/>
<circle cx="456.20" cy="358.10" r="1.3" fill="#fff" stroke="#d6454a" stroke-width="0.6" stroke-opacity="0.7"/>
<circle cx="461.20" cy="350.50" r="1.3" fill="#fff" stroke="#d6454a" stroke-width="0.6" stroke-opacity="0.7"/>
<circle cx="466.60" cy="344.80" r="1.3" fill="#fff" stroke="#d6454a" stroke-width="0.6" stroke-opacity="0.7"/>
<circle cx="472.30" cy="337.40" r="1.3" fill="#fff" stroke="#d6454a" stroke-width="0.6" stroke-opacity="0.7"/>
<circle cx="478.30" cy="328.40" r="1.3" fill="#fff" stroke="#d6454a" stroke-width="0.6" stroke-opacity="0.7"/>
<circle cx="484.30" cy="315.90" r="1.3" fill="#fff" stroke="#d6454a" stroke-width="0.6" stroke-opacity="0.7"/>
<circle cx="491.40" cy="300.20" r="1.3" fill="#fff" stroke="#d6454a" stroke-width="0.6" stroke-opacity="0.7"/>
<circle cx="499.40" cy="287.70" r="1.3" fill="#fff" stroke="#d6454a" stroke-width="0.6" stroke-opacity="0.7"/>
<circle cx="509.10" cy="282.10" r="1.3" fill="#fff" stroke="#d6454a" stroke-width="0.6" stroke-opacity="0.7"/>
<circle cx="517.70" cy="386.00" r="1.3" fill="#fff" stroke="#d6454a" stroke-width="0.6" stroke-opacity="0.7"/>
<circle cx="523.70" cy="355.80" r="1.3" fill="#fff" stroke="#d6454a" stroke-width="0.6" stroke-opacity="0.7"/>
<circle cx="531.60" cy="371.90" r="1.3" fill="#fff" stroke="#d6454a" stroke-width="0.6" stroke-opacity="0.7"/>
<circle cx="540.60" cy="371.30" r="1.3" fill="#fff" stroke="#d6454a" stroke-width="0.6" stroke-opacity="0.7"/>
<circle cx="551.30" cy="371.30" r="1.3" fill="#fff" stroke="#d6454a" stroke-width="0.6" stroke-opacity="0.7"/>
<circle cx="566.00" cy="374.30" r="1.3" fill="#fff" stroke="#d6454a" stroke-width="0.6" stroke-opacity="0.7"/>
<circle cx="585.50" cy="368.70" r="1.3" fill="#fff" stroke="#d6454a" stroke-width="0.6" stroke-opacity="0.7"/>
<circle cx="610.30" cy="421.30" r="1.3" fill="#fff" stroke="#d6454a" stroke-width="0.6" stroke-opacity="0.7"/>
<circle cx="625.80" cy="388.10" r="1.3" fill="#fff" stroke="#d6454a" stroke-width="0.6" stroke-opacity="0.7"/>
<circle cx="655.30" cy="405.80" r="1.3" fill="#fff" stroke="#d6454a" stroke-width="0.6" stroke-opacity="0.7"/>
<rect x="411.0" y="262.2" width="260.5" height="194.5" fill="none" stroke="#2a2a2a" stroke-width="1.3"/>
<line x1="411.0" y1="456.90" x2="407.0" y2="456.90" stroke="#2a2a2a" stroke-width="1.1" />
<text x="404.5" y="461.10" font-size="11.7" font-weight="normal" text-anchor="end" fill="#000" >0.00</text>
<line x1="411.0" y1="439.15" x2="408.7" y2="439.15" stroke="#2a2a2a" stroke-width="1.1" />
<line x1="411.0" y1="421.40" x2="407.0" y2="421.40" stroke="#2a2a2a" stroke-width="1.1" />
<text x="404.5" y="425.60" font-size="11.7" font-weight="normal" text-anchor="end" fill="#000" >0.01</text>
<line x1="411.0" y1="403.65" x2="408.7" y2="403.65" stroke="#2a2a2a" stroke-width="1.1" />
<line x1="411.0" y1="385.90" x2="407.0" y2="385.90" stroke="#2a2a2a" stroke-width="1.1" />
<text x="404.5" y="390.10" font-size="11.7" font-weight="normal" text-anchor="end" fill="#000" >0.02</text>
<line x1="411.0" y1="368.15" x2="408.7" y2="368.15" stroke="#2a2a2a" stroke-width="1.1" />
<line x1="411.0" y1="350.40" x2="407.0" y2="350.40" stroke="#2a2a2a" stroke-width="1.1" />
<text x="404.5" y="354.60" font-size="11.7" font-weight="normal" text-anchor="end" fill="#000" >0.03</text>
<line x1="411.0" y1="332.65" x2="408.7" y2="332.65" stroke="#2a2a2a" stroke-width="1.1" />
<line x1="411.0" y1="314.90" x2="407.0" y2="314.90" stroke="#2a2a2a" stroke-width="1.1" />
<text x="404.5" y="319.10" font-size="11.7" font-weight="normal" text-anchor="end" fill="#000" >0.04</text>
<line x1="411.0" y1="297.15" x2="408.7" y2="297.15" stroke="#2a2a2a" stroke-width="1.1" />
<line x1="411.0" y1="279.40" x2="407.0" y2="279.40" stroke="#2a2a2a" stroke-width="1.1" />
<text x="404.5" y="283.60" font-size="11.7" font-weight="normal" text-anchor="end" fill="#000" >0.05</text>
<line x1="411.00" y1="456.7" x2="411.00" y2="460.7" stroke="#2a2a2a" stroke-width="1.0" />
<text x="411.00" y="472.0" font-size="11.7" font-weight="normal" text-anchor="middle" fill="#000" >1</text>
<line x1="442.28" y1="456.7" x2="442.28" y2="459.0" stroke="#2a2a2a" stroke-width="1.0" />
<line x1="460.57" y1="456.7" x2="460.57" y2="459.0" stroke="#2a2a2a" stroke-width="1.0" />
<line x1="473.55" y1="456.7" x2="473.55" y2="459.0" stroke="#2a2a2a" stroke-width="1.0" />
<line x1="483.62" y1="456.7" x2="483.62" y2="459.0" stroke="#2a2a2a" stroke-width="1.0" />
<line x1="491.85" y1="456.7" x2="491.85" y2="459.0" stroke="#2a2a2a" stroke-width="1.0" />
<line x1="498.81" y1="456.7" x2="498.81" y2="459.0" stroke="#2a2a2a" stroke-width="1.0" />
<line x1="504.83" y1="456.7" x2="504.83" y2="459.0" stroke="#2a2a2a" stroke-width="1.0" />
<line x1="510.15" y1="456.7" x2="510.15" y2="459.0" stroke="#2a2a2a" stroke-width="1.0" />
<line x1="514.90" y1="456.7" x2="514.90" y2="460.7" stroke="#2a2a2a" stroke-width="1.0" />
<text x="514.90" y="472.0" font-size="11.7" font-weight="normal" text-anchor="middle" fill="#000" >10</text>
<line x1="546.18" y1="456.7" x2="546.18" y2="459.0" stroke="#2a2a2a" stroke-width="1.0" />
<line x1="564.47" y1="456.7" x2="564.47" y2="459.0" stroke="#2a2a2a" stroke-width="1.0" />
<line x1="577.45" y1="456.7" x2="577.45" y2="459.0" stroke="#2a2a2a" stroke-width="1.0" />
<line x1="587.52" y1="456.7" x2="587.52" y2="459.0" stroke="#2a2a2a" stroke-width="1.0" />
<line x1="595.75" y1="456.7" x2="595.75" y2="459.0" stroke="#2a2a2a" stroke-width="1.0" />
<line x1="602.71" y1="456.7" x2="602.71" y2="459.0" stroke="#2a2a2a" stroke-width="1.0" />
<line x1="608.73" y1="456.7" x2="608.73" y2="459.0" stroke="#2a2a2a" stroke-width="1.0" />
<line x1="614.05" y1="456.7" x2="614.05" y2="459.0" stroke="#2a2a2a" stroke-width="1.0" />
<line x1="618.80" y1="456.7" x2="618.80" y2="460.7" stroke="#2a2a2a" stroke-width="1.0" />
<text x="618.80" y="472.0" font-size="11.7" font-weight="normal" text-anchor="middle" fill="#000" >100</text>
<line x1="650.08" y1="456.7" x2="650.08" y2="459.0" stroke="#2a2a2a" stroke-width="1.0" />
<line x1="668.37" y1="456.7" x2="668.37" y2="459.0" stroke="#2a2a2a" stroke-width="1.0" />
<text x="541.1" y="484.8" font-size="13.2" font-weight="bold" text-anchor="middle" fill="#000"  stroke="#000" stroke-width="0.4">Pore Width (nm)</text>
<text transform="translate(375.2,436.5) rotate(-90)" font-size="13.3" font-weight="bold" text-anchor="start" stroke="#000" stroke-width="0.4">Pore Volume (cm<tspan font-size="8.2" dy="-6">3</tspan><tspan dy="6" dx="0.2"> g</tspan><tspan font-size="8.2" dy="-6">-1</tspan><tspan dy="6" dx="0.4" font-weight="normal">)</tspan></text>
<text x="345.0" y="283.2" font-size="27.0" font-weight="normal" text-anchor="start" fill="#000" letter-spacing="1.1" stroke="#000" stroke-width="0.55">(d)</text>
<line x1="527.3" y1="279.2" x2="548.7" y2="279.2" stroke="#d6454a" stroke-width="1.1" stroke-opacity="0.75"/>
<circle cx="538" cy="279.2" r="1.1" fill="#fff" stroke="#d6454a" stroke-width="0.6"/>
<text x="553.8" y="282.6" font-size="12.2" font-weight="bold" text-anchor="start" fill="#000"  stroke="#000" stroke-width="0.4">SnO<tspan font-size="8.54" dy="2.44">2</tspan><tspan dy="-2.44">@C@half-rGO</tspan></text>
<line x1="527.3" y1="293.4" x2="548.7" y2="293.4" stroke="#4a8fdc" stroke-width="1.1" stroke-opacity="0.75"/>
<circle cx="538" cy="293.4" r="1.1" fill="#fff" stroke="#4a8fdc" stroke-width="0.6"/>
<text x="553.8" y="297.2" font-size="12.2" font-weight="bold" text-anchor="start" fill="#000"  stroke="#000" stroke-width="0.4">SnO<tspan font-size="8.54" dy="2.44">2</tspan><tspan dy="-2.44">@C/rGO</tspan></text>
<line x1="527.3" y1="307.59999999999997" x2="548.7" y2="307.59999999999997" stroke="#555555" stroke-width="1.1" stroke-opacity="0.75"/>
<circle cx="538" cy="307.59999999999997" r="1.1" fill="#fff" stroke="#555555" stroke-width="0.6"/>
<text x="553.8" y="311.8" font-size="12.2" font-weight="bold" text-anchor="start" fill="#000"  stroke="#000" stroke-width="0.4">SnO<tspan font-size="8.54" dy="2.44">2</tspan><tspan dy="-2.44">/C</tspan></text>
</svg></body></html>
